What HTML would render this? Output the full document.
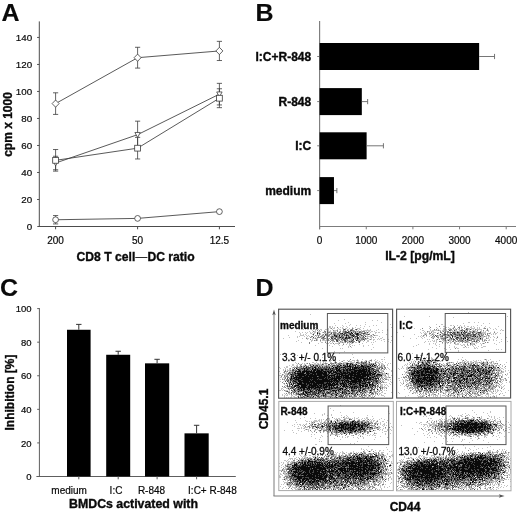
<!DOCTYPE html>
<html><head><meta charset="utf-8"><title>Figure</title>
<style>html,body{margin:0;padding:0;background:#fff;overflow:hidden}svg{display:block;filter:grayscale(1)}text{font-family:"Liberation Sans",sans-serif}</style>
</head><body>
<svg width="520" height="515" viewBox="0 0 520 515">
<rect width="520" height="515" fill="#fff"/>
<text transform="translate(1.5 21.1) scale(1.04 1)" font-size="24" font-weight="bold" fill="#0a0a0a" stroke="#0a0a0a" stroke-width="0.15">A</text>
<line x1="39.3" y1="21.4" x2="39.3" y2="227" stroke="#4c4c4c" stroke-width="1"/>
<line x1="37.3" y1="226.5" x2="235" y2="226.5" stroke="#4c4c4c" stroke-width="1"/>
<text x="32.2" y="230.1" font-size="9.8" text-anchor="end" fill="#0a0a0a" stroke="#0a0a0a" stroke-width="0.2">0</text>
<line x1="37.1" y1="199.49" x2="39.3" y2="199.49" stroke="#4c4c4c" stroke-width="1"/>
<text x="32.2" y="203.09" font-size="9.8" text-anchor="end" fill="#0a0a0a" stroke="#0a0a0a" stroke-width="0.2">20</text>
<line x1="37.1" y1="172.48" x2="39.3" y2="172.48" stroke="#4c4c4c" stroke-width="1"/>
<text x="32.2" y="176.08" font-size="9.8" text-anchor="end" fill="#0a0a0a" stroke="#0a0a0a" stroke-width="0.2">40</text>
<line x1="37.1" y1="145.47" x2="39.3" y2="145.47" stroke="#4c4c4c" stroke-width="1"/>
<text x="32.2" y="149.07" font-size="9.8" text-anchor="end" fill="#0a0a0a" stroke="#0a0a0a" stroke-width="0.2">60</text>
<line x1="37.1" y1="118.46" x2="39.3" y2="118.46" stroke="#4c4c4c" stroke-width="1"/>
<text x="32.2" y="122.06" font-size="9.8" text-anchor="end" fill="#0a0a0a" stroke="#0a0a0a" stroke-width="0.2">80</text>
<line x1="37.1" y1="91.45" x2="39.3" y2="91.45" stroke="#4c4c4c" stroke-width="1"/>
<text x="32.2" y="95.05" font-size="9.8" text-anchor="end" fill="#0a0a0a" stroke="#0a0a0a" stroke-width="0.2">100</text>
<line x1="37.1" y1="64.44" x2="39.3" y2="64.44" stroke="#4c4c4c" stroke-width="1"/>
<text x="32.2" y="68.04" font-size="9.8" text-anchor="end" fill="#0a0a0a" stroke="#0a0a0a" stroke-width="0.2">120</text>
<line x1="37.1" y1="37.43" x2="39.3" y2="37.43" stroke="#4c4c4c" stroke-width="1"/>
<text x="32.2" y="41.03" font-size="9.8" text-anchor="end" fill="#0a0a0a" stroke="#0a0a0a" stroke-width="0.2">140</text>
<line x1="55.6" y1="226.5" x2="55.6" y2="229.3" stroke="#4c4c4c" stroke-width="1"/>
<text x="55.6" y="243.8" font-size="10" text-anchor="middle" fill="#0a0a0a" stroke="#0a0a0a" stroke-width="0.2">200</text>
<line x1="137.6" y1="226.5" x2="137.6" y2="229.3" stroke="#4c4c4c" stroke-width="1"/>
<text x="137.6" y="243.8" font-size="10" text-anchor="middle" fill="#0a0a0a" stroke="#0a0a0a" stroke-width="0.2">50</text>
<line x1="219.4" y1="226.5" x2="219.4" y2="229.3" stroke="#4c4c4c" stroke-width="1"/>
<text x="219.4" y="243.8" font-size="10" text-anchor="middle" fill="#0a0a0a" stroke="#0a0a0a" stroke-width="0.2">12.5</text>
<text x="135.6" y="261.3" font-size="12.15" font-weight="bold" text-anchor="middle" fill="#0a0a0a" stroke="#0a0a0a" stroke-width="0.35">CD8 T cell<tspan font-weight="normal" stroke="none">&#8212;</tspan>DC ratio</text>
<text x="12" y="124.5" font-size="12" font-weight="bold" text-anchor="middle" fill="#0a0a0a" stroke="#0a0a0a" stroke-width="0.35" transform="rotate(-90 12 124.5)">cpm x 1000</text>
<path d="M55.6 103.6 L137.6 57.69 L219.4 50.94" fill="none" stroke="#3c3c3c" stroke-width="0.85"/>
<path d="M55.6 163.03 L137.6 134.67 L219.4 94.15" fill="none" stroke="#3c3c3c" stroke-width="0.85"/>
<path d="M55.6 160.33 L137.6 148.17 L219.4 98.2" fill="none" stroke="#3c3c3c" stroke-width="0.85"/>
<path d="M55.6 219.75 L137.6 218.4 L219.4 211.64" fill="none" stroke="#3c3c3c" stroke-width="0.85"/>
<line x1="55.6" y1="92.8" x2="55.6" y2="114.41" stroke="#3c3c3c" stroke-width="0.8"/>
<line x1="53" y1="92.8" x2="58.2" y2="92.8" stroke="#3c3c3c" stroke-width="0.8"/>
<line x1="53" y1="114.41" x2="58.2" y2="114.41" stroke="#3c3c3c" stroke-width="0.8"/>
<line x1="137.6" y1="47.29" x2="137.6" y2="68.09" stroke="#3c3c3c" stroke-width="0.8"/>
<line x1="135" y1="47.29" x2="140.2" y2="47.29" stroke="#3c3c3c" stroke-width="0.8"/>
<line x1="135" y1="68.09" x2="140.2" y2="68.09" stroke="#3c3c3c" stroke-width="0.8"/>
<line x1="219.4" y1="41.35" x2="219.4" y2="60.52" stroke="#3c3c3c" stroke-width="0.8"/>
<line x1="216.8" y1="41.35" x2="222" y2="41.35" stroke="#3c3c3c" stroke-width="0.8"/>
<line x1="216.8" y1="60.52" x2="222" y2="60.52" stroke="#3c3c3c" stroke-width="0.8"/>
<line x1="55.6" y1="156.27" x2="55.6" y2="169.78" stroke="#3c3c3c" stroke-width="0.8"/>
<line x1="53" y1="156.27" x2="58.2" y2="156.27" stroke="#3c3c3c" stroke-width="0.8"/>
<line x1="53" y1="169.78" x2="58.2" y2="169.78" stroke="#3c3c3c" stroke-width="0.8"/>
<line x1="137.6" y1="121.16" x2="137.6" y2="148.17" stroke="#3c3c3c" stroke-width="0.8"/>
<line x1="135" y1="121.16" x2="140.2" y2="121.16" stroke="#3c3c3c" stroke-width="0.8"/>
<line x1="135" y1="148.17" x2="140.2" y2="148.17" stroke="#3c3c3c" stroke-width="0.8"/>
<line x1="219.4" y1="83.35" x2="219.4" y2="104.95" stroke="#3c3c3c" stroke-width="0.8"/>
<line x1="216.8" y1="83.35" x2="222" y2="83.35" stroke="#3c3c3c" stroke-width="0.8"/>
<line x1="216.8" y1="104.95" x2="222" y2="104.95" stroke="#3c3c3c" stroke-width="0.8"/>
<line x1="55.6" y1="149.52" x2="55.6" y2="171.13" stroke="#3c3c3c" stroke-width="0.8"/>
<line x1="53" y1="149.52" x2="58.2" y2="149.52" stroke="#3c3c3c" stroke-width="0.8"/>
<line x1="53" y1="171.13" x2="58.2" y2="171.13" stroke="#3c3c3c" stroke-width="0.8"/>
<line x1="137.6" y1="137.37" x2="137.6" y2="158.97" stroke="#3c3c3c" stroke-width="0.8"/>
<line x1="135" y1="137.37" x2="140.2" y2="137.37" stroke="#3c3c3c" stroke-width="0.8"/>
<line x1="135" y1="158.97" x2="140.2" y2="158.97" stroke="#3c3c3c" stroke-width="0.8"/>
<line x1="219.4" y1="88.75" x2="219.4" y2="107.66" stroke="#3c3c3c" stroke-width="0.8"/>
<line x1="216.8" y1="88.75" x2="222" y2="88.75" stroke="#3c3c3c" stroke-width="0.8"/>
<line x1="216.8" y1="107.66" x2="222" y2="107.66" stroke="#3c3c3c" stroke-width="0.8"/>
<line x1="55.6" y1="215.56" x2="55.6" y2="223.93" stroke="#3c3c3c" stroke-width="0.8"/>
<line x1="53" y1="215.56" x2="58.2" y2="215.56" stroke="#3c3c3c" stroke-width="0.8"/>
<line x1="53" y1="223.93" x2="58.2" y2="223.93" stroke="#3c3c3c" stroke-width="0.8"/>
<path d="M52.1 103.6L55.6 100L59.1 103.6L55.6 107.2Z" fill="#fff" stroke="#3c3c3c" stroke-width="0.8"/>
<path d="M134.1 57.69L137.6 54.09L141.1 57.69L137.6 61.29Z" fill="#fff" stroke="#3c3c3c" stroke-width="0.8"/>
<path d="M215.9 50.94L219.4 47.34L222.9 50.94L219.4 54.54Z" fill="#fff" stroke="#3c3c3c" stroke-width="0.8"/>
<path d="M52.9 160.83L58.3 160.83L55.6 165.83Z" fill="#fff" stroke="#3c3c3c" stroke-width="0.8"/>
<path d="M134.9 132.47L140.3 132.47L137.6 137.47Z" fill="#fff" stroke="#3c3c3c" stroke-width="0.8"/>
<path d="M216.7 91.95L222.1 91.95L219.4 96.95Z" fill="#fff" stroke="#3c3c3c" stroke-width="0.8"/>
<rect x="52.7" y="157.43" width="5.8" height="5.8" fill="#fff" stroke="#3c3c3c" stroke-width="0.8"/>
<rect x="134.7" y="145.27" width="5.8" height="5.8" fill="#fff" stroke="#3c3c3c" stroke-width="0.8"/>
<rect x="216.5" y="95.3" width="5.8" height="5.8" fill="#fff" stroke="#3c3c3c" stroke-width="0.8"/>
<circle cx="55.6" cy="219.75" r="2.9" fill="#fff" stroke="#3c3c3c" stroke-width="0.8"/>
<circle cx="137.6" cy="218.4" r="2.9" fill="#fff" stroke="#3c3c3c" stroke-width="0.8"/>
<circle cx="219.4" cy="211.64" r="2.9" fill="#fff" stroke="#3c3c3c" stroke-width="0.8"/>
<text transform="translate(255.5 21.1) scale(1.04 1)" font-size="24" font-weight="bold" fill="#0a0a0a" stroke="#0a0a0a" stroke-width="0.15">B</text>
<line x1="319.6" y1="21" x2="319.6" y2="229.3" stroke="#7c7c7c" stroke-width="1.15"/>
<line x1="319.1" y1="226.5" x2="516" y2="226.5" stroke="#7c7c7c" stroke-width="1.15"/>
<line x1="317.2" y1="56.5" x2="319.6" y2="56.5" stroke="#7c7c7c" stroke-width="1"/>
<rect x="319.6" y="43" width="159.54" height="27" fill="#000"/>
<line x1="479.14" y1="56.5" x2="494.54" y2="56.5" stroke="#666" stroke-width="0.9"/>
<line x1="494.54" y1="53.9" x2="494.54" y2="59.1" stroke="#666" stroke-width="0.9"/>
<text x="311.2" y="60.8" font-size="12" font-weight="bold" text-anchor="end" fill="#0a0a0a" stroke="#0a0a0a" stroke-width="0.35">I:C+R-848</text>
<line x1="317.2" y1="101.6" x2="319.6" y2="101.6" stroke="#7c7c7c" stroke-width="1"/>
<rect x="319.6" y="88.1" width="42.22" height="27" fill="#000"/>
<line x1="361.82" y1="101.6" x2="367.65" y2="101.6" stroke="#666" stroke-width="0.9"/>
<line x1="367.65" y1="99" x2="367.65" y2="104.2" stroke="#666" stroke-width="0.9"/>
<text x="311.2" y="105.9" font-size="12" font-weight="bold" text-anchor="end" fill="#0a0a0a" stroke="#0a0a0a" stroke-width="0.35">R-848</text>
<line x1="317.2" y1="145.8" x2="319.6" y2="145.8" stroke="#7c7c7c" stroke-width="1"/>
<rect x="319.6" y="132.3" width="47.02" height="27" fill="#000"/>
<line x1="366.62" y1="145.8" x2="383.42" y2="145.8" stroke="#666" stroke-width="0.9"/>
<line x1="383.42" y1="143.2" x2="383.42" y2="148.4" stroke="#666" stroke-width="0.9"/>
<text x="311.2" y="150.1" font-size="12" font-weight="bold" text-anchor="end" fill="#0a0a0a" stroke="#0a0a0a" stroke-width="0.35">I:C</text>
<line x1="317.2" y1="190.6" x2="319.6" y2="190.6" stroke="#7c7c7c" stroke-width="1"/>
<rect x="319.6" y="177.1" width="14.37" height="27" fill="#000"/>
<line x1="333.97" y1="190.6" x2="336.86" y2="190.6" stroke="#666" stroke-width="0.9"/>
<line x1="336.86" y1="188" x2="336.86" y2="193.2" stroke="#666" stroke-width="0.9"/>
<text x="311.2" y="194.9" font-size="12" font-weight="bold" text-anchor="end" fill="#0a0a0a" stroke="#0a0a0a" stroke-width="0.35">medium</text>
<line x1="319.6" y1="226.5" x2="319.6" y2="229.3" stroke="#7c7c7c" stroke-width="1"/>
<text x="319.6" y="243.6" font-size="10" text-anchor="middle" fill="#0a0a0a" stroke="#0a0a0a" stroke-width="0.2">0</text>
<line x1="366.25" y1="226.5" x2="366.25" y2="229.3" stroke="#7c7c7c" stroke-width="1"/>
<text x="366.25" y="243.6" font-size="10" text-anchor="middle" fill="#0a0a0a" stroke="#0a0a0a" stroke-width="0.2">1000</text>
<line x1="412.9" y1="226.5" x2="412.9" y2="229.3" stroke="#7c7c7c" stroke-width="1"/>
<text x="412.9" y="243.6" font-size="10" text-anchor="middle" fill="#0a0a0a" stroke="#0a0a0a" stroke-width="0.2">2000</text>
<line x1="459.55" y1="226.5" x2="459.55" y2="229.3" stroke="#7c7c7c" stroke-width="1"/>
<text x="459.55" y="243.6" font-size="10" text-anchor="middle" fill="#0a0a0a" stroke="#0a0a0a" stroke-width="0.2">3000</text>
<line x1="506.2" y1="226.5" x2="506.2" y2="229.3" stroke="#7c7c7c" stroke-width="1"/>
<text x="506.2" y="243.6" font-size="10" text-anchor="middle" fill="#0a0a0a" stroke="#0a0a0a" stroke-width="0.2">4000</text>
<text x="420" y="260.4" font-size="12.2" font-weight="bold" text-anchor="middle" fill="#0a0a0a" stroke="#0a0a0a" stroke-width="0.35">IL-2 [pg/mL]</text>
<text transform="translate(0.1 296.2) scale(1.04 1)" font-size="24" font-weight="bold" fill="#0a0a0a" stroke="#0a0a0a" stroke-width="0.15">C</text>
<line x1="39.4" y1="308.1" x2="39.4" y2="477" stroke="#5e5e5e" stroke-width="1"/>
<line x1="36.4" y1="476.5" x2="235.8" y2="476.5" stroke="#5e5e5e" stroke-width="1"/>
<line x1="37.2" y1="476.5" x2="39.4" y2="476.5" stroke="#5e5e5e" stroke-width="1"/>
<text x="31.6" y="480.2" font-size="9.5" text-anchor="end" fill="#0a0a0a" stroke="#0a0a0a" stroke-width="0.2">0</text>
<line x1="37.2" y1="442.92" x2="39.4" y2="442.92" stroke="#5e5e5e" stroke-width="1"/>
<text x="31.6" y="446.62" font-size="9.5" text-anchor="end" fill="#0a0a0a" stroke="#0a0a0a" stroke-width="0.2">20</text>
<line x1="37.2" y1="409.34" x2="39.4" y2="409.34" stroke="#5e5e5e" stroke-width="1"/>
<text x="31.6" y="413.04" font-size="9.5" text-anchor="end" fill="#0a0a0a" stroke="#0a0a0a" stroke-width="0.2">40</text>
<line x1="37.2" y1="375.76" x2="39.4" y2="375.76" stroke="#5e5e5e" stroke-width="1"/>
<text x="31.6" y="379.46" font-size="9.5" text-anchor="end" fill="#0a0a0a" stroke="#0a0a0a" stroke-width="0.2">60</text>
<line x1="37.2" y1="342.18" x2="39.4" y2="342.18" stroke="#5e5e5e" stroke-width="1"/>
<text x="31.6" y="345.88" font-size="9.5" text-anchor="end" fill="#0a0a0a" stroke="#0a0a0a" stroke-width="0.2">80</text>
<line x1="37.2" y1="308.6" x2="39.4" y2="308.6" stroke="#5e5e5e" stroke-width="1"/>
<text x="31.6" y="312.3" font-size="9.5" text-anchor="end" fill="#0a0a0a" stroke="#0a0a0a" stroke-width="0.2">100</text>
<rect x="67" y="329.76" width="23.6" height="146.74" fill="#000"/>
<line x1="78.8" y1="329.76" x2="78.8" y2="324.38" stroke="#333" stroke-width="1"/>
<line x1="76.1" y1="324.38" x2="81.5" y2="324.38" stroke="#333" stroke-width="1"/>
<line x1="78.8" y1="476.5" x2="78.8" y2="479.3" stroke="#5e5e5e" stroke-width="1"/>
<rect x="106.2" y="354.77" width="24" height="121.73" fill="#000"/>
<line x1="118.2" y1="354.77" x2="118.2" y2="351.25" stroke="#333" stroke-width="1"/>
<line x1="115.5" y1="351.25" x2="120.9" y2="351.25" stroke="#333" stroke-width="1"/>
<line x1="118.2" y1="476.5" x2="118.2" y2="479.3" stroke="#5e5e5e" stroke-width="1"/>
<rect x="145" y="363.34" width="24.2" height="113.16" fill="#000"/>
<line x1="157.1" y1="363.34" x2="157.1" y2="359.31" stroke="#333" stroke-width="1"/>
<line x1="154.4" y1="359.31" x2="159.8" y2="359.31" stroke="#333" stroke-width="1"/>
<line x1="157.1" y1="476.5" x2="157.1" y2="479.3" stroke="#5e5e5e" stroke-width="1"/>
<rect x="184.5" y="433.35" width="24.2" height="43.15" fill="#000"/>
<line x1="196.6" y1="433.35" x2="196.6" y2="425.29" stroke="#333" stroke-width="1"/>
<line x1="193.9" y1="425.29" x2="199.3" y2="425.29" stroke="#333" stroke-width="1"/>
<line x1="196.6" y1="476.5" x2="196.6" y2="479.3" stroke="#5e5e5e" stroke-width="1"/>
<text x="69.1" y="494" font-size="10" text-anchor="middle" fill="#0a0a0a" stroke="#0a0a0a" stroke-width="0.2">medium</text>
<text x="116" y="494" font-size="10" text-anchor="middle" fill="#0a0a0a" stroke="#0a0a0a" stroke-width="0.2">I:C</text>
<text x="151.5" y="494" font-size="10" text-anchor="middle" fill="#0a0a0a" stroke="#0a0a0a" stroke-width="0.2">R-848</text>
<text x="212.4" y="494" font-size="10" text-anchor="middle" fill="#0a0a0a" stroke="#0a0a0a" stroke-width="0.2">I:C+ R-848</text>
<text x="133.5" y="508.2" font-size="12.35" font-weight="bold" text-anchor="middle" fill="#0a0a0a" stroke="#0a0a0a" stroke-width="0.35">BMDCs activated with</text>
<text x="13.5" y="392.5" font-size="12" font-weight="bold" text-anchor="middle" fill="#0a0a0a" stroke="#0a0a0a" stroke-width="0.35" transform="rotate(-90 13.5 392.5)">Inhibition [%]</text>
<text transform="translate(255.5 296) scale(1.04 1)" font-size="24" font-weight="bold" fill="#0a0a0a" stroke="#0a0a0a" stroke-width="0.15">D</text>
<g stroke-width="1" fill="none" shape-rendering="crispEdges"><path d="M310 314.5h1M344 319.5h1M338 320.5h1m33 0h1m4 0h1M348 322.5h1m16 0h1m15 0h1M317 323.5h1m16 0h1m10 0h1M350 324.5h1m14 0h1m24 0h1M315 325.5h1m19 0h1m6 0h1m6 0h1m6 0h1m3 0h1m12 0h1m2 0h1M329 326.5h2m1 0h1m10 0h1m2 0h1m17 0h1m4 0h1M315 327.5h1m13 0h2m1 0h1m1 0h1m5 0h1m1 0h1m4 0h1m4 0h1m2 0h1m4 0h1m30 0h1M328 328.5h1m1 0h1m2 0h2m3 0h1m3 0h2m1 0h2m2 0h1m3 0h1m3 0h3m3 0h1M303 329.5h1m7 0h1m1 0h1m1 0h2m1 0h1m1 0h2m3 0h2m1 0h1m3 0h1m4 0h1m1 0h2m6 0h2m1 0h1m6 0h1m1 0h2m6 0h1m2 0h1m7 0h1m8 0h1M312 330.5h1m2 0h1m5 0h1m2 0h1m3 0h1m1 0h1m3 0h3m3 0h1m3 0h2m2 0h1m5 0h1m1 0h1m1 0h1m2 0h1m1 0h8m5 0h1m5 0h1m4 0h1M295 331.5h1m13 0h1m4 0h2m2 0h3m7 0h3m2 0h3m3 0h1m2 0h1m8 0h2m3 0h1m1 0h1m2 0h1m4 0h1m1 0h2m1 0h2m1 0h1M299 332.5h1m2 0h1m2 0h1m1 0h1m2 0h1m1 0h1m1 0h2m2 0h2m2 0h1m1 0h1m5 0h1m1 0h1m3 0h1m1 0h1m1 0h1m1 0h1m7 0h1m1 0h1m1 0h1m1 0h3m3 0h1m3 0h1m1 0h1m1 0h1m4 0h2m1 0h2m2 0h1M300 333.5h1m5 0h1m3 0h2m1 0h2m3 0h1m1 0h1m3 0h5m1 0h1m5 0h1m2 0h1m3 0h1m3 0h1m11 0h2m5 0h2m1 0h1m5 0h1M300 334.5h1m2 0h1m1 0h1m6 0h1m7 0h1m1 0h1m4 0h2m2 0h2m3 0h1m8 0h1m2 0h1m5 0h1m6 0h1m2 0h2m6 0h1m13 0h1M288 335.5h1m11 0h4m2 0h1m1 0h1m4 0h1m2 0h2m1 0h1m1 0h1m1 0h2m2 0h1m3 0h3m4 0h1m1 0h1m2 0h1m5 0h1m9 0h2m2 0h1m1 0h1m1 0h1m2 0h1m2 0h1m1 0h3M297 336.5h1m1 0h1m4 0h1m2 0h1m1 0h1m4 0h1m1 0h1m5 0h2m2 0h2m1 0h2m9 0h1m3 0h2m1 0h1m2 0h1m9 0h3m3 0h7m6 0h1m11 0h1M289 337.5h1m7 0h1m8 0h1m4 0h1m3 0h1m4 0h2m2 0h1m1 0h1m3 0h1m3 0h1m9 0h1m11 0h1m2 0h1m1 0h1m5 0h1m2 0h2m3 0h1m6 0h1M283 338.5h1m18 0h1m4 0h2m3 0h3m1 0h2m8 0h1m1 0h1m4 0h1m6 0h1m10 0h1m2 0h1m4 0h2m3 0h1m1 0h1m1 0h1m2 0h1m6 0h1m1 0h2M307 339.5h1m4 0h1m4 0h1m2 0h1m1 0h1m1 0h1m1 0h1m4 0h1m2 0h1m4 0h2m1 0h1m6 0h2m1 0h1m3 0h1m1 0h1m1 0h1m4 0h2m2 0h1m1 0h1m1 0h2m2 0h1m1 0h1m3 0h2m3 0h1M298 340.5h1m12 0h2m2 0h1m1 0h1m4 0h6m1 0h1m8 0h1m2 0h1m1 0h1m2 0h1m1 0h3m8 0h1m1 0h2m4 0h2m4 0h1m7 0h1m9 0h1M296 341.5h1m14 0h1m8 0h1m4 0h1m6 0h2m4 0h1m2 0h2m4 0h2m11 0h1m2 0h1m3 0h2m6 0h1m8 0h1m3 0h1M301 342.5h1m19 0h2m6 0h1m2 0h1m5 0h4m1 0h2m3 0h2m1 0h1m3 0h2m1 0h1m7 0h1m4 0h1m1 0h1m16 0h1M318 343.5h1m7 0h3m1 0h2m3 0h4m4 0h1m3 0h1m1 0h1m1 0h2m9 0h1M334 344.5h1m3 0h1m7 0h1m2 0h2m8 0h1m12 0h1M315 345.5h1m13 0h1m9 0h1m2 0h1m6 0h1m2 0h1m1 0h1m8 0h1m4 0h1M332 346.5h1m15 0h1m14 0h1M348 347.5h1m2 0h1m21 0h1M322 348.5h1m17 0h1m1 0h1M371 349.5h1M334 351.5h1m9 0h1M339 353.5h1M280 354.5h1m71 0h1M297 355.5h1M302 356.5h1M322 357.5h1m30 0h1m30 0h1M334 359.5h1m22 0h1m4 0h1m8 0h1m3 0h1m5 0h2m1 0h1M292 360.5h1m2 0h1m21 0h2m12 0h1m1 0h1m5 0h1m3 0h2m2 0h1m1 0h1m2 0h3m1 0h1m1 0h1m6 0h2m2 0h1m4 0h1m2 0h1M323 361.5h1m6 0h1m10 0h1m7 0h3m2 0h1m2 0h2m3 0h1m1 0h2m2 0h2m1 0h1m3 0h2m2 0h1m2 0h1M295 362.5h1m16 0h2m2 0h1m3 0h1m2 0h1m1 0h1m4 0h2m2 0h1m4 0h2m2 0h5m2 0h5m4 0h2m7 0h1m7 0h3m1 0h1m4 0h1M296 363.5h1m5 0h1m1 0h1m1 0h1m7 0h2m1 0h2m1 0h1m1 0h3m2 0h1m6 0h1m1 0h2m4 0h1m1 0h2m7 0h1m1 0h3m2 0h1m6 0h2m1 0h1m1 0h1m1 0h1m3 0h2m1 0h2m5 0h1m1 0h1M292 364.5h2m3 0h1m1 0h2m3 0h2m3 0h1m1 0h1m1 0h5m1 0h3m3 0h2m5 0h3m2 0h1m3 0h2m2 0h1m2 0h1m8 0h2m3 0h1m4 0h1m6 0h2m5 0h3m3 0h1M289 365.5h1m2 0h2m2 0h2m3 0h1m1 0h2m1 0h1m1 0h2m1 0h2m1 0h1m3 0h1m1 0h1m1 0h4m1 0h1m1 0h1m1 0h1m7 0h1m2 0h1m5 0h1m7 0h1m3 0h1m10 0h1m1 0h1m5 0h1m2 0h2m3 0h1M286 366.5h2m3 0h1m2 0h1m1 0h1m2 0h1m2 0h1m2 0h1m12 0h1m2 0h1m1 0h1m6 0h1m2 0h1m20 0h1m21 0h1m2 0h2m1 0h2M279 367.5h1m4 0h1m1 0h2m4 0h1m1 0h1m7 0h1m1 0h1m12 0h1m12 0h1m1 0h1m39 0h2m2 0h1m1 0h1m8 0h1M280 368.5h1m4 0h1m3 0h1m2 0h1m5 0h1m15 0h1m36 0h1m22 0h1m8 0h2m3 0h1M283 369.5h1m1 0h1m1 0h1m1 0h2m3 0h1m1 0h1m82 0h2m2 0h1m2 0h1m2 0h1M283 370.5h1m3 0h3m1 0h1m5 0h1m37 0h1m38 0h1m5 0h4m7 0h1M279 371.5h1m6 0h1m2 0h3m2 0h1m86 0h2m8 0h1M283 372.5h1m2 0h1m1 0h1m7 0h1m77 0h1m2 0h1m4 0h1m1 0h1M280 373.5h1m3 0h4m3 0h1m84 0h1m2 0h3m1 0h3m1 0h2M283 374.5h1m1 0h2m2 0h1m93 0h3m1 0h2M279 375.5h4m2 0h2m3 0h1m91 0h3m3 0h1m2 0h1M285 376.5h1m2 0h1m5 0h1m87 0h1m1 0h3m1 0h1M280 377.5h2m1 0h2m4 0h1m78 0h1m7 0h1m5 0h2m1 0h4m1 0h1M282 378.5h1m1 0h1m96 0h1m3 0h2M280 379.5h1m2 0h1m5 0h1m89 0h1m2 0h1m4 0h2m1 0h1M284 380.5h2m3 0h1m90 0h3m1 0h1m3 0h1M280 381.5h1m2 0h1m5 0h1m1 0h1m75 0h1m11 0h1m3 0h1m6 0h1M286 382.5h1m4 0h1m88 0h1m1 0h1m1 0h3m4 0h1M283 383.5h1m3 0h2m1 0h1m1 0h1m77 0h2m6 0h2m9 0h1M284 384.5h1m83 0h1m5 0h1m5 0h3m1 0h1m1 0h1m3 0h1M285 385.5h2m3 0h1m2 0h1m74 0h1m9 0h1m1 0h3m2 0h1m1 0h1M286 386.5h1m48 0h1m2 0h1m2 0h1m19 0h1m11 0h1m2 0h1m4 0h2m1 0h1m3 0h1M283 387.5h2m2 0h4m73 0h1m9 0h1m6 0h1m1 0h4M281 388.5h2m3 0h2m1 0h1m4 0h1m49 0h1m12 0h1m12 0h1m4 0h3m3 0h1m2 0h1M281 389.5h1m1 0h1m4 0h1m2 0h1m4 0h1m24 0h1m28 0h1m6 0h1m3 0h1m4 0h2m1 0h2m7 0h1m3 0h1M279 390.5h2m1 0h1m2 0h3m1 0h1m3 0h1m20 0h1m12 0h1m21 0h2m12 0h1m3 0h2m3 0h2m3 0h4m3 0h1m1 0h1M285 391.5h1m2 0h2m6 0h1m5 0h1m22 0h1m2 0h1m8 0h1m2 0h2m8 0h1m4 0h2m3 0h2m3 0h1m3 0h1m3 0h1m1 0h2m5 0h1M292 392.5h1m2 0h1m1 0h1m1 0h2m3 0h1m12 0h1m7 0h1m5 0h1m2 0h1m2 0h1m9 0h2m2 0h1m3 0h1m2 0h2m2 0h1m3 0h3m4 0h2m1 0h1m1 0h1m2 0h2m8 0h1M284 393.5h1m3 0h3m4 0h1m3 0h1m11 0h1m38 0h1m6 0h2m2 0h1m2 0h3m9 0h1m2 0h2m3 0h2M282 394.5h1m2 0h1m1 0h1m1 0h1m3 0h3m10 0h1m9 0h1m3 0h2m2 0h1m2 0h3m3 0h1m3 0h1m1 0h1m2 0h1m3 0h1m2 0h3m6 0h1m1 0h1m5 0h3m1 0h1m1 0h1m2 0h1m3 0h1m1 0h1M282 395.5h1m1 0h1m1 0h2m3 0h2m2 0h2m1 0h2m1 0h1m8 0h1m2 0h1m5 0h2m6 0h4m3 0h1m3 0h1m9 0h1m1 0h1m2 0h1m2 0h4m2 0h1m3 0h1m1 0h1m1 0h1m1 0h1m2 0h1m2 0h1m2 0h3M284 396.5h1m6 0h1m1 0h2m2 0h1m3 0h2m2 0h1m6 0h1m1 0h3m5 0h1m9 0h3m1 0h1m6 0h2m2 0h1m4 0h2m7 0h1m2 0h3m1 0h3m1 0h1m11 0h1M284 397.5h1m1 0h1m1 0h1m1 0h2m2 0h3m2 0h1m3 0h1m3 0h2m2 0h1m5 0h1m3 0h1m2 0h1m1 0h1m1 0h2m1 0h1m1 0h1m4 0h2m1 0h1m1 0h1m3 0h1m1 0h1m3 0h2m3 0h1m2 0h1m6 0h1m3 0h1" stroke="#c2c2c2"/>
<path d="M337 327.5h1M331 328.5h1m20 0h1M343 329.5h1m1 0h1m5 0h2m2 0h1M317 330.5h1m1 0h1m13 0h1m3 0h1m5 0h1m3 0h1m4 0h2M313 331.5h1m10 0h2m1 0h1m9 0h1m2 0h1m2 0h2m1 0h1m2 0h2m2 0h3m1 0h1m1 0h2m1 0h3M323 332.5h1m1 0h1m1 0h3m1 0h1m1 0h3m7 0h2m4 0h1m3 0h1m6 0h2m2 0h2M333 333.5h3m1 0h2m7 0h1m1 0h1m5 0h1m6 0h2m2 0h1M317 334.5h1m1 0h1m3 0h1m2 0h1m2 0h2m2 0h1m1 0h1m1 0h6m4 0h1m1 0h1m1 0h2m2 0h1m3 0h1m3 0h1m2 0h2m1 0h1m3 0h1M315 335.5h1m2 0h1m3 0h1m2 0h2m1 0h2m7 0h1m3 0h1m3 0h1m4 0h1m5 0h1m5 0h1m1 0h1m6 0h1m2 0h1M311 336.5h2m5 0h1m1 0h2m6 0h1m2 0h1m1 0h2m2 0h2m3 0h2m5 0h1m1 0h2m1 0h1m4 0h1M310 337.5h1m6 0h3m2 0h1m9 0h2m1 0h4m2 0h1m5 0h1m3 0h1m2 0h2m4 0h1m1 0h3m8 0h1M306 338.5h1m8 0h1m5 0h5m1 0h1m1 0h1m7 0h3m1 0h1m1 0h2m5 0h1m1 0h2m1 0h2m4 0h3m3 0h1M310 339.5h1m5 0h1m6 0h1m4 0h1m1 0h1m1 0h2m1 0h1m1 0h2m6 0h3m3 0h1m3 0h1m3 0h1m1 0h2m1 0h1m5 0h1M314 340.5h1m1 0h1m3 0h1m7 0h1m2 0h3m5 0h1m2 0h1m4 0h1m3 0h1m1 0h1m3 0h2m1 0h1m3 0h1M330 341.5h1m3 0h1m1 0h1m3 0h1m3 0h1m1 0h1m3 0h1m1 0h3m3 0h1M309 342.5h1m15 0h1m16 0h1m2 0h1m1 0h1m2 0h1m2 0h1M309 343.5h1m23 0h1m5 0h1M343 344.5h1M350 346.5h1M350 359.5h1M357 360.5h1m12 0h2M335 361.5h1m6 0h1m5 0h1m12 0h1M336 362.5h1m21 0h1m3 0h3m1 0h1m8 0h1M298 363.5h1m8 0h1m1 0h1m15 0h2m3 0h4m1 0h1m2 0h3m2 0h1m5 0h1m2 0h1m5 0h2m1 0h2m1 0h3m2 0h1m1 0h1m1 0h1M301 364.5h1m8 0h1m1 0h1m5 0h1m4 0h1m7 0h1m4 0h1m1 0h1m1 0h1m2 0h2m4 0h1m1 0h1m1 0h3m4 0h1m2 0h3m2 0h1m1 0h1m1 0h1m3 0h1m2 0h1M300 365.5h1m14 0h1m3 0h1m1 0h1m4 0h1m1 0h1m1 0h1m1 0h1m2 0h2m9 0h1m4 0h1m11 0h1m3 0h3m6 0h1m1 0h1m2 0h1m2 0h1M297 366.5h1m2 0h1m2 0h1m3 0h2m1 0h1m2 0h2m1 0h1m3 0h1m3 0h2m1 0h3m1 0h1m2 0h3m3 0h4m12 0h1m2 0h1m10 0h1m3 0h2m5 0h1m2 0h1M293 367.5h1m1 0h7m3 0h1m1 0h1m3 0h1m1 0h1m2 0h1m2 0h1m1 0h1m1 0h1m1 0h1m2 0h1m2 0h1m2 0h1m13 0h1m2 0h1m19 0h1m2 0h1m2 0h1m1 0h4m1 0h2M290 368.5h1m6 0h1m1 0h2m9 0h2m10 0h1m4 0h1m6 0h1m3 0h1m2 0h2m1 0h1m1 0h1m20 0h1m2 0h1m5 0h3m2 0h1m3 0h1M292 369.5h1m2 0h1m5 0h1m1 0h1m1 0h1m3 0h1m1 0h1m17 0h1m1 0h1m8 0h1m34 0h4m2 0h1m2 0h1M285 370.5h1m4 0h1m3 0h2m5 0h2m7 0h1m1 0h1m11 0h1m17 0h1m27 0h1m1 0h1m2 0h1M284 371.5h2m1 0h1m4 0h2m7 0h1m13 0h1m16 0h1m40 0h1m2 0h2m1 0h1m3 0h1M284 372.5h1m5 0h2m1 0h1m11 0h1m21 0h1m4 0h1m38 0h1m6 0h1m1 0h2M289 373.5h2m2 0h1m10 0h2m21 0h1m2 0h1m3 0h1m42 0h2m3 0h1M282 374.5h1m4 0h2m7 0h1m32 0h2m40 0h1m3 0h2m4 0h2M284 375.5h1m2 0h1m1 0h1m4 0h1m40 0h1m4 0h1m32 0h1m1 0h1m9 0h1M281 376.5h1m2 0h1m1 0h2m2 0h1m26 0h1m12 0h1m18 0h1m16 0h1m3 0h1m7 0h4M285 377.5h1m1 0h2m1 0h1m1 0h1m81 0h1m3 0h2m1 0h1m7 0h1M285 378.5h1m3 0h1m82 0h1m7 0h1m1 0h1m1 0h1M282 379.5h1m1 0h1m1 0h3m4 0h1m43 0h1m24 0h1m11 0h1m5 0h1m2 0h1m1 0h2M286 380.5h2m4 0h1m56 0h2m11 0h1m8 0h2m5 0h2M288 381.5h1m8 0h1m43 0h1m1 0h1m26 0h1m1 0h1m1 0h1m3 0h1m3 0h1M282 382.5h1m5 0h2m2 0h1m1 0h1m3 0h1m33 0h1m8 0h1m7 0h1m24 0h2m1 0h3m1 0h1m1 0h1M284 383.5h1m11 0h1m34 0h1m3 0h1m2 0h1m8 0h1m18 0h2m5 0h4m3 0h1M287 384.5h1m2 0h1m1 0h1m2 0h2m42 0h1m7 0h1m1 0h1m7 0h1m3 0h1m13 0h2m1 0h1M299 385.5h2m35 0h1m2 0h2m1 0h1m4 0h2m2 0h1m6 0h1m5 0h1M282 386.5h1m1 0h1m3 0h1m1 0h1m1 0h2m2 0h1m3 0h1m29 0h1m1 0h1m1 0h1m4 0h1m9 0h1m18 0h2m1 0h1m2 0h1m2 0h2m1 0h1M285 387.5h1m54 0h3m1 0h1m1 0h1m1 0h1m14 0h1m2 0h2m1 0h1m2 0h2m3 0h1m2 0h1m1 0h1M291 388.5h1m1 0h1m2 0h2m7 0h1m4 0h1m16 0h1m15 0h1m1 0h1m1 0h4m8 0h1m1 0h2m3 0h1m2 0h1m4 0h1m7 0h1m3 0h1M289 389.5h1m5 0h1m4 0h1m1 0h1m9 0h1m10 0h1m8 0h5m4 0h1m1 0h1m2 0h2m6 0h3m8 0h1m2 0h1m3 0h1m7 0h1M284 390.5h1m7 0h1m2 0h4m6 0h3m1 0h1m1 0h1m1 0h1m3 0h1m7 0h2m1 0h2m1 0h1m5 0h1m1 0h1m1 0h3m1 0h1m11 0h1m3 0h1m2 0h1m1 0h1m2 0h1m4 0h1m6 0h1M286 391.5h1m5 0h3m2 0h1m1 0h3m6 0h2m3 0h1m1 0h1m1 0h1m4 0h1m3 0h1m2 0h1m2 0h1m1 0h1m1 0h1m6 0h1m2 0h2m3 0h1m6 0h1m4 0h1m2 0h2m2 0h2m2 0h1m2 0h1m1 0h1M288 392.5h2m3 0h1m2 0h1m1 0h1m3 0h1m8 0h1m9 0h1m1 0h1m8 0h2m4 0h2m1 0h1m7 0h2m2 0h2m8 0h2m4 0h1m1 0h2m2 0h1M286 393.5h1m4 0h1m1 0h1m3 0h1m2 0h1m3 0h2m2 0h2m9 0h3m2 0h1m1 0h1m3 0h2m2 0h3m1 0h2m1 0h1m1 0h1m1 0h1m1 0h1m5 0h3m4 0h1m2 0h1m5 0h1m1 0h1m1 0h1m1 0h1m1 0h1M291 394.5h1m4 0h2m19 0h2m3 0h1m3 0h1m3 0h1m1 0h1m1 0h1m3 0h1m2 0h1m1 0h2m2 0h2m3 0h3m4 0h1m1 0h2m8 0h1m1 0h1m3 0h1M302 395.5h1m1 0h1m3 0h2m2 0h1m1 0h2m1 0h1m4 0h1m3 0h1m4 0h1m1 0h1m1 0h1m1 0h1m1 0h2m1 0h1m2 0h3m1 0h1m1 0h1m3 0h1m7 0h3M300 396.5h1m3 0h1m1 0h1m2 0h3m7 0h3m2 0h1m1 0h6m6 0h1m6 0h2m3 0h2m2 0h3m2 0h2m1 0h1m11 0h1M300 397.5h1m4 0h2m2 0h1m3 0h1m4 0h1m6 0h1m6 0h1m1 0h2m1 0h1m2 0h1m5 0h1m5 0h1m9 0h3m2 0h1m3 0h1m1 0h1" stroke="#848484"/>
<path d="M344 329.5h1m11 0h1M350 330.5h2M345 331.5h1m2 0h1M317 332.5h1m21 0h1m5 0h2m1 0h1m6 0h1m3 0h1m7 0h1M319 333.5h1m11 0h1m8 0h2m2 0h2m3 0h3m3 0h2m1 0h1m4 0h2M313 334.5h1m11 0h1m8 0h1m8 0h2m1 0h1m6 0h1m4 0h1m1 0h1m7 0h1M335 335.5h2m5 0h1m1 0h1m2 0h2m2 0h1m1 0h2m2 0h2m2 0h1M324 336.5h1m7 0h1m2 0h1m3 0h1m1 0h1m4 0h1m1 0h1m6 0h3m5 0h1m1 0h1M313 337.5h1m9 0h1m3 0h1m3 0h1m7 0h1m2 0h2m1 0h1m2 0h1m1 0h1m1 0h1m5 0h1M331 338.5h2m1 0h2m6 0h1m3 0h4m8 0h1m6 0h1M336 339.5h1m4 0h1m1 0h2m12 0h1m5 0h1M336 340.5h2m6 0h2m6 0h1M337 341.5h1m7 0h1m3 0h1m1 0h1m7 0h1M352 342.5h1m6 0h1M366 361.5h1M335 362.5h1m20 0h2m3 0h1m3 0h1m3 0h1M341 363.5h1m4 0h1m1 0h1m1 0h2m11 0h1m11 0h1M322 364.5h1m5 0h2m9 0h1m6 0h1m14 0h1m4 0h1m2 0h1m1 0h1M305 365.5h1m4 0h1m5 0h2m15 0h2m2 0h2m2 0h1m2 0h2m4 0h1m1 0h3m2 0h3m4 0h3m8 0h1M301 366.5h1m2 0h1m1 0h1m4 0h2m2 0h1m1 0h1m1 0h1m2 0h1m3 0h1m11 0h1m5 0h1m1 0h1m4 0h3m3 0h2m1 0h1m3 0h3m2 0h1m1 0h3m3 0h1M303 367.5h1m4 0h3m1 0h1m7 0h1m1 0h1m1 0h1m1 0h2m9 0h4m1 0h1m2 0h3m1 0h1m3 0h1m4 0h1m1 0h3m1 0h1m1 0h4m5 0h1M294 368.5h1m6 0h3m1 0h5m3 0h1m2 0h6m1 0h4m1 0h4m1 0h1m1 0h1m4 0h1m2 0h1m3 0h1m1 0h1m3 0h1m3 0h1m1 0h2m1 0h1m1 0h2m5 0h1m1 0h1m5 0h1m2 0h1M293 369.5h1m3 0h1m1 0h2m1 0h1m3 0h1m1 0h1m1 0h1m2 0h1m2 0h1m1 0h3m2 0h2m2 0h1m4 0h4m1 0h1m3 0h2m1 0h2m2 0h1m6 0h4m2 0h1m5 0h2m1 0h5M292 370.5h2m2 0h1m1 0h1m1 0h1m2 0h1m1 0h1m1 0h3m6 0h1m3 0h1m2 0h1m1 0h6m2 0h2m6 0h1m3 0h1m2 0h1m2 0h3m11 0h1m1 0h1m3 0h1m4 0h3M296 371.5h1m15 0h1m9 0h1m3 0h1m2 0h1m4 0h1m1 0h1m1 0h1m2 0h2m1 0h3m1 0h3m2 0h1m3 0h1m9 0h1m2 0h3m5 0h1M289 372.5h1m2 0h1m2 0h1m1 0h3m1 0h1m7 0h1m13 0h1m7 0h1m5 0h3m2 0h1m3 0h1m3 0h1m5 0h1m5 0h1m3 0h1m1 0h1m3 0h1m2 0h2m2 0h1M288 373.5h1m3 0h1m1 0h1m1 0h1m13 0h2m4 0h1m11 0h1m4 0h1m1 0h1m4 0h1m7 0h1m11 0h1m5 0h1m1 0h1m3 0h2M290 374.5h1m1 0h4m1 0h1m8 0h1m2 0h1m3 0h1m2 0h1m5 0h1m4 0h1m3 0h3m2 0h1m1 0h1m4 0h2m1 0h2m5 0h1m2 0h1m23 0h1M291 375.5h3m2 0h1m8 0h1m16 0h2m4 0h1m7 0h1m1 0h1m10 0h1m11 0h1m7 0h1m1 0h2m1 0h1m2 0h4M292 376.5h1m2 0h1m1 0h2m3 0h2m4 0h1m9 0h1m8 0h1m4 0h2m1 0h1m6 0h1m1 0h1m7 0h2m15 0h1m1 0h3m1 0h3M293 377.5h1m18 0h1m12 0h1m1 0h1m3 0h1m1 0h1m1 0h1m4 0h1m1 0h1m12 0h1m8 0h3m4 0h1m3 0h1m1 0h1M287 378.5h1m2 0h1m1 0h1m2 0h1m1 0h1m3 0h1m16 0h1m5 0h1m2 0h1m1 0h2m10 0h2m1 0h1m7 0h1m6 0h1m8 0h1m2 0h1m1 0h2m2 0h1M291 379.5h2m1 0h1m4 0h2m9 0h1m1 0h1m4 0h1m1 0h3m6 0h1m4 0h1m6 0h4m1 0h2m1 0h2m2 0h2m7 0h1m4 0h1m4 0h1m1 0h1m1 0h2m1 0h1M288 380.5h1m1 0h2m2 0h4m3 0h2m8 0h1m18 0h1m1 0h1m5 0h1m1 0h1m3 0h1m12 0h1m7 0h1m1 0h4m2 0h5M285 381.5h1m1 0h1m2 0h1m1 0h2m2 0h1m12 0h1m4 0h1m18 0h1m1 0h1m3 0h2m4 0h1m1 0h1m13 0h1m1 0h1m1 0h2m1 0h2m3 0h1m1 0h1m1 0h1m2 0h1M293 382.5h1m1 0h1m1 0h1m4 0h1m12 0h1m8 0h3m1 0h1m1 0h1m3 0h1m1 0h1m1 0h3m2 0h1m1 0h2m4 0h1m5 0h2m2 0h4m1 0h1m3 0h1m1 0h2m2 0h1M286 383.5h1m2 0h1m1 0h1m2 0h2m6 0h2m2 0h1m3 0h1m1 0h1m11 0h2m13 0h1m4 0h1m1 0h1m1 0h1m3 0h3m1 0h1m1 0h1m1 0h2m6 0h1M289 384.5h1m3 0h1m3 0h1m8 0h1m1 0h1m3 0h1m4 0h1m1 0h2m1 0h1m4 0h1m5 0h1m4 0h1m2 0h2m2 0h1m6 0h1m2 0h2m1 0h1m3 0h4m5 0h1m1 0h1M287 385.5h1m1 0h1m4 0h1m12 0h2m9 0h1m3 0h1m2 0h1m1 0h1m7 0h1m1 0h2m6 0h1m4 0h1m1 0h6m8 0h1m3 0h3m1 0h2m1 0h1M287 386.5h1m1 0h1m1 0h1m5 0h2m7 0h2m2 0h1m5 0h1m2 0h1m2 0h1m1 0h1m3 0h1m7 0h1m8 0h1m2 0h1m2 0h1m1 0h1m3 0h3m4 0h1m2 0h1m2 0h1m4 0h1M291 387.5h4m1 0h2m1 0h1m7 0h1m6 0h1m6 0h2m4 0h2m1 0h1m1 0h2m1 0h1m2 0h2m3 0h1m3 0h1m2 0h1m2 0h1m1 0h2m1 0h2m1 0h2m2 0h1m4 0h2m3 0h1m3 0h1M288 388.5h1m1 0h1m1 0h1m2 0h1m2 0h2m1 0h2m3 0h1m5 0h2m2 0h3m1 0h1m1 0h2m1 0h2m1 0h1m1 0h1m2 0h2m1 0h4m12 0h2m1 0h1m2 0h1m4 0h3m1 0h2m2 0h2m7 0h1M293 389.5h2m2 0h1m1 0h1m5 0h2m1 0h1m1 0h2m1 0h4m1 0h1m1 0h1m1 0h1m7 0h2m5 0h2m5 0h1m4 0h1m1 0h3m4 0h3m1 0h1m1 0h1m6 0h1m1 0h2M291 390.5h1m7 0h2m1 0h1m1 0h1m7 0h1m2 0h1m4 0h1m1 0h1m1 0h1m5 0h1m4 0h1m4 0h1m3 0h1m1 0h2m5 0h4m1 0h2m5 0h1m5 0h1M287 391.5h1m7 0h1m7 0h2m1 0h2m4 0h1m3 0h1m1 0h2m1 0h1m1 0h2m2 0h1m2 0h2m1 0h1m4 0h2m4 0h2m2 0h2m2 0h3m2 0h1m4 0h1m1 0h1M291 392.5h1m2 0h1m12 0h1m2 0h1m1 0h5m2 0h2m1 0h1m1 0h1m1 0h2m1 0h2m5 0h1m3 0h1m2 0h4m5 0h1m3 0h2m2 0h2m3 0h1M296 393.5h1m1 0h1m2 0h2m4 0h1m2 0h1m1 0h6m4 0h1m2 0h1m1 0h3m2 0h2m10 0h1m3 0h1m3 0h1m3 0h1m5 0h1m9 0h1M298 394.5h1m1 0h4m1 0h1m2 0h7m4 0h1m3 0h1m11 0h1m4 0h1m4 0h1m9 0h1m8 0h1M300 395.5h1m5 0h2m3 0h1m6 0h1m2 0h1m2 0h2m6 0h1m8 0h1m1 0h1m10 0h1m6 0h1m7 0h1M298 396.5h1m4 0h1m4 0h1m8 0h2m4 0h1m1 0h1m9 0h1m3 0h4m6 0h1M301 397.5h2m1 0h1m5 0h1m1 0h1m2 0h1m3 0h1m10 0h1m11 0h1m1 0h1" stroke="#474747"/>
<path d="M347 332.5h1m3 0h1M317 333.5h1m24 0h1m9 0h1m4 0h1M350 334.5h1m5 0h2M334 335.5h1m4 0h1m6 0h1m5 0h1M336 336.5h1m16 0h1M340 337.5h1m5 0h1m2 0h1m7 0h1M345 338.5h1m11 0h1M353 339.5h1M356 340.5h1M347 363.5h1M347 364.5h1m2 0h1m1 0h1m3 0h1m16 0h1M313 365.5h1m26 0h1m2 0h1m3 0h1m1 0h1m5 0h1m5 0h2m7 0h1m1 0h1m1 0h1M332 366.5h1m4 0h1m1 0h1m5 0h1m1 0h4m4 0h1m5 0h3m3 0h2M306 367.5h1m7 0h2m2 0h1m10 0h1m3 0h1m1 0h2m4 0h1m1 0h2m5 0h1m1 0h1m1 0h4m1 0h1m3 0h1m1 0h1m4 0h1M296 368.5h1m7 0h1m7 0h1m2 0h1m16 0h1m3 0h2m1 0h1m5 0h1m2 0h1m1 0h1m1 0h1m1 0h3m1 0h1m2 0h1m1 0h1m2 0h1m1 0h2m2 0h1M298 369.5h1m5 0h1m2 0h1m4 0h1m1 0h2m1 0h1m3 0h2m2 0h2m1 0h1m1 0h1m5 0h1m1 0h2m3 0h1m2 0h2m1 0h6m4 0h2m1 0h5m2 0h1M299 370.5h1m4 0h1m1 0h1m4 0h1m1 0h3m1 0h3m1 0h2m8 0h2m3 0h5m2 0h2m1 0h2m1 0h2m3 0h11m1 0h1m1 0h2m3 0h1M295 371.5h1m1 0h4m1 0h10m1 0h2m1 0h6m1 0h3m1 0h2m1 0h2m1 0h1m1 0h1m1 0h1m1 0h2m2 0h1m3 0h1m3 0h2m1 0h3m1 0h9m1 0h2m4 0h2M294 372.5h1m5 0h1m1 0h3m1 0h3m1 0h13m1 0h3m1 0h3m2 0h4m3 0h2m1 0h3m1 0h3m1 0h5m1 0h5m1 0h3m1 0h1m1 0h2m2 0h1M295 373.5h1m1 0h7m2 0h4m2 0h4m1 0h10m2 0h1m1 0h2m3 0h4m1 0h7m1 0h11m1 0h5m1 0h1m1 0h3m2 0h2m10 0h1M291 374.5h1m6 0h8m1 0h2m1 0h3m1 0h2m1 0h5m1 0h4m1 0h1m5 0h2m1 0h1m1 0h4m2 0h1m2 0h5m1 0h2m1 0h14m1 0h3m2 0h3M295 375.5h1m1 0h8m1 0h16m2 0h4m1 0h6m2 0h1m1 0h1m1 0h8m1 0h11m1 0h7m1 0h1m5 0h1m4 0h1M291 376.5h1m1 0h1m2 0h1m2 0h3m2 0h4m1 0h8m2 0h8m1 0h2m1 0h1m2 0h1m1 0h6m1 0h1m1 0h4m1 0h2m2 0h12m1 0h2m5 0h1M291 377.5h1m2 0h18m1 0h12m1 0h1m1 0h3m1 0h1m1 0h1m1 0h4m1 0h1m1 0h12m1 0h8m3 0h1m1 0h2m1 0h2M291 378.5h1m1 0h2m1 0h1m1 0h3m1 0h16m1 0h5m1 0h2m1 0h1m2 0h10m2 0h1m1 0h7m1 0h6m1 0h8m1 0h2m4 0h2m1 0h1M290 379.5h1m4 0h4m2 0h9m1 0h1m1 0h4m1 0h1m3 0h6m1 0h4m1 0h3m1 0h2m4 0h1m2 0h1m2 0h2m2 0h7m2 0h3m1 0h4m1 0h1M293 380.5h1m4 0h3m2 0h8m1 0h18m1 0h1m1 0h5m1 0h1m1 0h3m1 0h4m2 0h6m1 0h4m1 0h2m1 0h1M294 381.5h2m2 0h11m1 0h4m1 0h18m1 0h1m1 0h3m3 0h1m1 0h1m1 0h1m1 0h13m1 0h1m1 0h1m6 0h1m4 0h1M290 382.5h1m5 0h1m2 0h3m1 0h12m1 0h8m3 0h1m1 0h1m1 0h1m1 0h1m1 0h1m1 0h1m4 0h1m1 0h1m2 0h2m1 0h1m1 0h5m2 0h2m4 0h1m1 0h3M293 383.5h1m3 0h5m2 0h2m1 0h3m1 0h1m1 0h11m2 0h5m1 0h3m1 0h2m2 0h4m1 0h1m3 0h3m3 0h1m1 0h1m1 0h1m2 0h4m3 0h1m2 0h1m4 0h1M291 384.5h1m6 0h8m1 0h1m1 0h3m1 0h4m1 0h1m2 0h1m1 0h4m1 0h5m1 0h4m2 0h1m2 0h2m1 0h1m1 0h1m1 0h2m1 0h2m4 0h2m5 0h2m1 0h2m1 0h1M292 385.5h1m2 0h4m2 0h6m2 0h9m1 0h3m1 0h2m1 0h1m1 0h7m6 0h1m1 0h2m1 0h1m2 0h1m9 0h5m1 0h1m1 0h1m1 0h1m3 0h1M294 386.5h2m3 0h1m1 0h5m2 0h2m1 0h5m1 0h2m1 0h2m1 0h1m1 0h3m1 0h1m1 0h1m1 0h1m3 0h1m2 0h1m1 0h3m1 0h2m2 0h1m1 0h1m1 0h3m3 0h1m1 0h2m1 0h2m5 0h1M298 387.5h1m1 0h7m1 0h6m1 0h6m2 0h4m2 0h1m1 0h1m2 0h1m1 0h2m7 0h1m3 0h1m1 0h2m1 0h1m2 0h1m2 0h1m7 0h1M300 388.5h1m2 0h2m2 0h3m1 0h1m2 0h2m3 0h1m1 0h1m2 0h1m4 0h1m1 0h2m2 0h1m4 0h3m3 0h1m4 0h1m2 0h1m1 0h1m3 0h1M298 389.5h1m2 0h1m1 0h2m2 0h1m1 0h1m7 0h1m1 0h1m4 0h6m9 0h2m1 0h1m2 0h1m17 0h1m13 0h1M294 390.5h1m6 0h1m1 0h1m4 0h1m1 0h1m5 0h1m1 0h2m1 0h1m1 0h1m8 0h3m1 0h1m1 0h1m9 0h1m2 0h2m7 0h1m1 0h1m7 0h1M298 391.5h1m6 0h1m4 0h2m2 0h1m5 0h1m14 0h1m6 0h1m16 0h1M303 392.5h1m1 0h2m1 0h2m8 0h1m9 0h1m6 0h1m6 0h1m27 0h1M303 393.5h1m2 0h1m11 0h1m4 0h1m13 0h1m4 0h1m3 0h1m2 0h1m1 0h1M299 394.5h1m4 0h1m2 0h1m7 0h1m9 0h1m5 0h1m4 0h1m20 0h1M305 395.5h1m10 0h1m6 0h1m12 0h1M307 396.5h1m5 0h1M298 397.5h1m37 0h1" stroke="#0a0a0a"/>
<path d="M468 312.5h1M404 316.5h1m24 0h1m77 0h1M453 317.5h1M468 322.5h2m4 0h1m3 0h1M463 323.5h1m19 0h1m5 0h1M436 324.5h1m4 0h2M450 325.5h2m1 0h1m3 0h1m2 0h1m3 0h1m12 0h1m3 0h1M429 326.5h1m13 0h2m14 0h1m1 0h1m2 0h1m2 0h2m2 0h1m1 0h1m11 0h1m12 0h1M436 327.5h1m8 0h2m1 0h1m4 0h1m8 0h1m2 0h1m4 0h2m2 0h1m2 0h1m1 0h1m4 0h1m4 0h1M414 328.5h1m14 0h1m7 0h1m2 0h1m2 0h3m3 0h2m1 0h1m2 0h1m1 0h1m3 0h1m6 0h2m1 0h4m2 0h1m1 0h1m3 0h1m3 0h1m2 0h1m4 0h1M405 329.5h1m14 0h1m9 0h1m7 0h1m4 0h4m2 0h1m3 0h3m2 0h2m1 0h1m3 0h1m2 0h2m1 0h1m1 0h1m2 0h6m11 0h1m2 0h1m4 0h1M422 330.5h2m6 0h1m1 0h6m1 0h2m1 0h3m1 0h1m4 0h2m2 0h2m2 0h1m5 0h2m2 0h1m2 0h4m5 0h1m4 0h1m1 0h1m11 0h1m1 0h2M424 331.5h1m3 0h2m1 0h3m8 0h1m2 0h2m3 0h1m1 0h5m1 0h4m3 0h1m1 0h1m3 0h2m2 0h3m3 0h1m1 0h1m1 0h1m2 0h1m5 0h1M397 332.5h1m22 0h1m2 0h1m1 0h1m1 0h1m1 0h1m3 0h3m2 0h1m13 0h1m3 0h1m3 0h1m1 0h1m4 0h3m1 0h1m3 0h2m4 0h5m4 0h1m6 0h1M421 333.5h1m2 0h3m5 0h2m4 0h1m2 0h1m1 0h1m5 0h1m6 0h1m3 0h1m1 0h1m12 0h1m1 0h1m4 0h4m2 0h1m1 0h1m2 0h1m1 0h2m3 0h1M414 334.5h1m9 0h1m1 0h1m2 0h1m1 0h1m1 0h2m4 0h1m2 0h1m6 0h1m2 0h1m23 0h2m2 0h1m1 0h1m8 0h1m1 0h1m1 0h1M421 335.5h1m2 0h1m5 0h2m4 0h1m1 0h4m3 0h2m3 0h1m2 0h2m6 0h2m9 0h1m3 0h3m1 0h1m2 0h1m2 0h2m1 0h1M403 336.5h1m14 0h1m1 0h1m1 0h2m2 0h1m2 0h1m3 0h1m3 0h2m7 0h3m1 0h1m2 0h1m2 0h3m2 0h2m6 0h1m6 0h1m1 0h1m2 0h3m1 0h2m1 0h2m3 0h1m3 0h1M421 337.5h1m2 0h1m7 0h3m5 0h5m3 0h2m4 0h2m3 0h1m2 0h2m2 0h1m4 0h3m1 0h1m2 0h1m1 0h4m2 0h1m1 0h1m1 0h1m3 0h1m11 0h1M410 338.5h1m5 0h1m5 0h1m9 0h1m5 0h1m1 0h1m5 0h1m2 0h1m2 0h1m16 0h1m4 0h1m1 0h2m1 0h1m1 0h1m5 0h2m7 0h1M427 339.5h1m1 0h1m6 0h1m4 0h2m1 0h1m2 0h2m1 0h1m1 0h1m9 0h1m1 0h3m2 0h2m4 0h2m1 0h2m1 0h1m2 0h2m3 0h1m3 0h1m7 0h1M432 340.5h1m1 0h1m1 0h1m5 0h3m1 0h2m1 0h3m2 0h1m2 0h1m5 0h2m1 0h1m6 0h1m5 0h1m5 0h1m2 0h2m3 0h1m2 0h1M425 341.5h1m2 0h1m1 0h1m2 0h2m1 0h1m4 0h1m1 0h1m2 0h1m2 0h2m4 0h1m1 0h1m1 0h1m4 0h2m2 0h1m2 0h1m3 0h1m1 0h1m4 0h3m16 0h1m5 0h1M424 342.5h1m11 0h1m9 0h2m2 0h2m3 0h1m3 0h1m4 0h1m1 0h4m1 0h2m2 0h4m9 0h1m10 0h1m5 0h1M429 343.5h1m3 0h1m1 0h1m6 0h1m2 0h1m1 0h1m2 0h1m4 0h1m1 0h2m8 0h1m3 0h4m1 0h1m3 0h1m1 0h1m1 0h1m9 0h1M418 344.5h1m10 0h1m5 0h1m3 0h1m15 0h4m1 0h1m2 0h2m6 0h3m7 0h1m14 0h1M416 345.5h1m19 0h1m12 0h1m11 0h2m1 0h1m2 0h2m1 0h1m1 0h1m2 0h1m5 0h1M413 346.5h1m25 0h1m14 0h1m18 0h1m4 0h1m4 0h3M432 347.5h1m16 0h1m4 0h1m1 0h1m6 0h2m1 0h1m1 0h1m5 0h1m1 0h1m4 0h2M436 348.5h1m7 0h1m12 0h2m15 0h2m1 0h1M428 349.5h1m17 0h1m3 0h1m45 0h1m1 0h1m2 0h1M458 350.5h1m29 0h1M458 351.5h1M449 352.5h1M412 353.5h1M420 355.5h2M419 357.5h1m4 0h1m1 0h1m2 0h1m1 0h1m30 0h1M416 358.5h1m6 0h1m5 0h1m1 0h2M409 359.5h1m2 0h1m3 0h2m1 0h1m3 0h3m2 0h1m2 0h1m1 0h2m9 0h1m13 0h1m2 0h1m3 0h1m18 0h1m1 0h1m3 0h1M414 360.5h1m5 0h2m1 0h1m1 0h1m4 0h1m4 0h2m1 0h2m1 0h1m20 0h1m3 0h1m6 0h1m2 0h1m1 0h1m1 0h1m5 0h1m1 0h1m10 0h1M411 361.5h1m1 0h1m5 0h1m1 0h1m1 0h2m4 0h2m3 0h2m1 0h1m2 0h1m16 0h1m4 0h1m1 0h2m1 0h2m1 0h2m2 0h3m4 0h1m1 0h1m2 0h2m3 0h3m2 0h1M409 362.5h1m1 0h1m1 0h1m1 0h1m1 0h1m2 0h1m3 0h1m5 0h2m4 0h1m10 0h2m1 0h1m1 0h2m3 0h1m1 0h1m1 0h3m2 0h3m1 0h3m2 0h4m1 0h3m1 0h3m2 0h2m2 0h1m12 0h1M407 363.5h1m4 0h2m3 0h1m3 0h1m2 0h1m3 0h1m1 0h2m3 0h2m3 0h1m2 0h1m4 0h2m3 0h1m5 0h2m1 0h2m2 0h1m2 0h2m1 0h2m2 0h2m2 0h1m3 0h3m1 0h1m1 0h2m1 0h2m1 0h1M405 364.5h1m1 0h1m1 0h1m5 0h1m1 0h1m11 0h1m1 0h1m1 0h2m2 0h1m4 0h1m1 0h1m1 0h1m2 0h2m1 0h2m2 0h2m1 0h2m3 0h1m1 0h2m1 0h1m6 0h1m2 0h1m2 0h1m2 0h1m3 0h1m1 0h2m1 0h1m2 0h1m6 0h1M404 365.5h1m1 0h1m3 0h2m1 0h2m16 0h1m8 0h3m1 0h2m1 0h1m3 0h1m2 0h1m4 0h4m2 0h1m1 0h2m10 0h2m3 0h1m1 0h3m1 0h1m4 0h1m2 0h2m2 0h1M402 366.5h1m4 0h1m4 0h5m19 0h1m6 0h1m1 0h1m2 0h3m3 0h1m3 0h1m12 0h1m2 0h1m5 0h1m1 0h2m3 0h2m1 0h3m1 0h3m2 0h1m2 0h1M402 367.5h1m3 0h2m14 0h1m8 0h1m6 0h1m3 0h1m1 0h2m1 0h1m1 0h1m4 0h1m3 0h1m2 0h1m5 0h1m6 0h1m5 0h1m2 0h1m3 0h1m4 0h1m7 0h1m3 0h1M398 368.5h1m2 0h1m1 0h1m2 0h2m1 0h2m1 0h1m26 0h1m4 0h1m5 0h1m3 0h1m4 0h1m8 0h1m18 0h1m2 0h1m2 0h1m2 0h3m2 0h2m2 0h1M399 369.5h1m6 0h2m9 0h1m26 0h2m23 0h1m17 0h1m7 0h6m2 0h1M407 370.5h1m39 0h1m5 0h1m6 0h1m15 0h1m18 0h1m1 0h1m2 0h2m3 0h1m2 0h1M404 371.5h1m1 0h3m1 0h1m35 0h2m1 0h1m27 0h1m3 0h1m9 0h1m1 0h2m2 0h3m2 0h2m1 0h1M405 372.5h1m1 0h1m31 0h2m2 0h1m3 0h1m8 0h1m1 0h1m1 0h1m8 0h1m8 0h1m12 0h1m1 0h1m3 0h1m2 0h4m5 0h1M405 373.5h1m1 0h1m40 0h1m17 0h1m1 0h1m3 0h1m2 0h1m1 0h1m12 0h1m5 0h2m1 0h3m5 0h1M404 374.5h1m1 0h1m49 0h1m1 0h1m17 0h1m6 0h1m18 0h1m4 0h1M406 375.5h1m1 0h1m29 0h1m5 0h1m6 0h1m4 0h1m24 0h2m3 0h1m1 0h1m3 0h2m3 0h1m1 0h2m1 0h1m3 0h1M403 376.5h1m2 0h1m2 0h1m20 0h1m12 0h1m4 0h1m5 0h1m17 0h1m8 0h2m5 0h1m3 0h3m1 0h1m1 0h2m2 0h1M401 377.5h1m3 0h1m35 0h1m3 0h1m6 0h1m11 0h1m3 0h1m1 0h1m7 0h1m18 0h1m1 0h1m2 0h1m5 0h1M398 378.5h2m4 0h1m2 0h2m35 0h2m6 0h1m8 0h1m6 0h1m7 0h1m7 0h1m5 0h1m1 0h1m1 0h1m9 0h1M402 379.5h1m2 0h2m3 0h1m32 0h1m5 0h2m2 0h1m2 0h1m18 0h1m7 0h1m8 0h1m2 0h1m5 0h3m1 0h2M399 380.5h1m3 0h1m1 0h2m1 0h1m31 0h1m2 0h1m2 0h1m5 0h1m10 0h1m1 0h1m15 0h1m12 0h1m3 0h1m1 0h2m1 0h1m1 0h1M403 381.5h1m1 0h1m1 0h1m42 0h1m4 0h1m6 0h1m1 0h1m6 0h1m1 0h1m6 0h1m1 0h1m3 0h1m5 0h2m8 0h1m6 0h1M400 382.5h1m2 0h1m2 0h1m3 0h2m31 0h1m19 0h1m13 0h1m5 0h1m1 0h1m1 0h1m2 0h2m3 0h1m4 0h2m4 0h1m2 0h1M401 383.5h1m5 0h3m1 0h2m31 0h1m1 0h2m2 0h2m32 0h2m9 0h3m4 0h1M402 384.5h1m4 0h2m1 0h2m26 0h1m5 0h2m5 0h1m2 0h1m2 0h1m2 0h1m1 0h2m1 0h1m6 0h1m3 0h2m3 0h1m7 0h2m1 0h3m1 0h1m4 0h1M400 385.5h1m4 0h2m2 0h1m2 0h1m25 0h1m19 0h1m2 0h1m3 0h1m4 0h1m1 0h2m5 0h1m7 0h1m3 0h2m2 0h1m1 0h2m1 0h1m3 0h1M404 386.5h1m1 0h1m1 0h1m2 0h1m4 0h1m13 0h1m2 0h1m3 0h2m3 0h8m3 0h1m3 0h1m8 0h1m4 0h1m1 0h1m2 0h1m1 0h1m2 0h1m2 0h1m2 0h2m2 0h2m2 0h1m2 0h2m1 0h1m1 0h1M407 387.5h1m1 0h1m1 0h1m8 0h1m1 0h1m10 0h1m3 0h1m3 0h1m1 0h1m4 0h1m2 0h1m16 0h1m1 0h2m1 0h1m7 0h2m3 0h1m3 0h2m1 0h2m6 0h2M407 388.5h1m2 0h3m1 0h1m1 0h1m14 0h3m2 0h4m3 0h1m4 0h4m7 0h1m4 0h1m2 0h2m3 0h2m4 0h2m2 0h2m2 0h2m2 0h1m2 0h2m9 0h1M404 389.5h1m3 0h1m8 0h1m1 0h2m3 0h1m2 0h1m3 0h1m1 0h1m3 0h1m1 0h1m1 0h1m3 0h2m5 0h1m4 0h2m1 0h3m2 0h1m2 0h2m1 0h2m1 0h1m2 0h1m1 0h3m1 0h2m3 0h1m2 0h1m1 0h1m1 0h1m1 0h1m5 0h1M411 390.5h1m2 0h2m4 0h1m1 0h2m11 0h1m2 0h1m3 0h3m6 0h3m2 0h1m1 0h1m3 0h1m1 0h4m2 0h5m1 0h1m1 0h2m1 0h1m7 0h2m2 0h1m1 0h1m1 0h2m1 0h1m7 0h1M410 391.5h1m2 0h1m3 0h1m5 0h3m1 0h1m1 0h1m1 0h1m6 0h1m6 0h2m1 0h4m1 0h2m8 0h1m1 0h1m2 0h2m1 0h5m3 0h1m1 0h2m6 0h3m3 0h1m1 0h1m3 0h1M398 392.5h1m10 0h1m3 0h5m1 0h2m4 0h3m4 0h2m1 0h1m5 0h3m1 0h2m1 0h3m4 0h1m3 0h2m1 0h1m1 0h3m6 0h3m2 0h1m2 0h1m2 0h2m1 0h1m3 0h2m3 0h1m8 0h1M399 393.5h1m13 0h1m1 0h1m1 0h1m4 0h2m2 0h1m1 0h2m2 0h2m10 0h2m2 0h2m4 0h1m1 0h4m1 0h1m3 0h2m6 0h1m2 0h1m3 0h2m4 0h1m1 0h1m3 0h2m1 0h1m4 0h1m1 0h1M421 394.5h1m1 0h1m1 0h1m5 0h3m4 0h1m1 0h1m4 0h1m4 0h2m1 0h1m1 0h1m3 0h6m5 0h1m3 0h4m2 0h3m3 0h3m1 0h1M408 395.5h1m8 0h1m2 0h1m1 0h3m6 0h1m1 0h1m1 0h3m2 0h1m1 0h3m1 0h4m1 0h3m3 0h3m6 0h1m5 0h1m2 0h1m1 0h1m2 0h1m4 0h1m2 0h1m4 0h1m2 0h1m6 0h2M405 396.5h1m12 0h4m1 0h1m5 0h1m3 0h1m1 0h1m1 0h1m2 0h1m4 0h1m1 0h1m2 0h1m2 0h3m3 0h1m3 0h2m1 0h1m2 0h2m2 0h3m5 0h2m3 0h1m1 0h1m1 0h1m1 0h2m2 0h1M418 397.5h1m1 0h2m5 0h1m8 0h1m3 0h1m11 0h1m1 0h1m5 0h1m2 0h1m2 0h1m5 0h1m1 0h1m1 0h1m3 0h1m6 0h1m6 0h1m1 0h1" stroke="#c2c2c2"/>
<path d="M439 326.5h1m14 0h1M430 327.5h1m23 0h1m3 0h2m1 0h1M422 328.5h1m30 0h1m5 0h1m4 0h1m1 0h2m16 0h2M434 329.5h1m1 0h1m11 0h1m1 0h2m4 0h1m5 0h1m4 0h1m7 0h1m11 0h1M438 330.5h1m11 0h1m9 0h1m1 0h3m2 0h1m9 0h1m5 0h1m3 0h1M427 331.5h1m12 0h1m2 0h1m3 0h2m8 0h1m4 0h1m3 0h1m2 0h2m3 0h1m5 0h1M431 332.5h1m8 0h2m2 0h2m1 0h3m5 0h1m3 0h1m4 0h1m5 0h1m2 0h2m2 0h1m16 0h1M429 333.5h2m11 0h1m1 0h1m2 0h1m2 0h1m2 0h1m1 0h1m1 0h3m3 0h1m1 0h1m1 0h1m2 0h1m1 0h2m4 0h4m5 0h1m1 0h1M425 334.5h1m6 0h1m10 0h1m2 0h3m4 0h1m2 0h3m1 0h2m1 0h4m1 0h5m6 0h1m1 0h1m1 0h1m1 0h1m1 0h1M423 335.5h1m2 0h1m6 0h1m3 0h1m4 0h3m2 0h1m1 0h1m5 0h2m1 0h1m5 0h2m3 0h1m1 0h1m3 0h1m5 0h2m5 0h1M432 336.5h1m1 0h1m5 0h2m7 0h1m4 0h1m4 0h2m3 0h2m1 0h2m1 0h2m2 0h1m4 0h1m4 0h1M431 337.5h1m5 0h2m6 0h2m13 0h1m7 0h1m1 0h1m3 0h1m1 0h2m1 0h1m17 0h1M433 338.5h1m7 0h4m5 0h1m2 0h1m1 0h1m1 0h4m1 0h1m1 0h1m2 0h1m2 0h2m1 0h1m1 0h1m2 0h1m3 0h1m3 0h1M437 339.5h1m1 0h1m3 0h1m1 0h1m3 0h1m1 0h1m4 0h1m2 0h3m6 0h1m2 0h4m2 0h1m2 0h1m1 0h1M445 340.5h1m7 0h1m1 0h1m2 0h4m5 0h2m1 0h2m2 0h1m1 0h3m3 0h1m1 0h1m1 0h1M439 341.5h2m11 0h2m2 0h1m1 0h1m1 0h4m2 0h2m4 0h2m5 0h1M442 342.5h1m5 0h1m5 0h1m7 0h1m2 0h1m19 0h1m1 0h1M454 343.5h1m28 0h1M467 344.5h1m2 0h1m3 0h1M465 346.5h1M455 348.5h1M418 358.5h1m5 0h1m3 0h1M418 359.5h1m1 0h1m64 0h1M422 360.5h1m5 0h1m3 0h1m30 0h1M415 361.5h1m6 0h1m2 0h1m2 0h1M418 362.5h2m1 0h1m1 0h1m1 0h3m7 0h1m13 0h1m1 0h1m8 0h1m3 0h1m8 0h1m5 0h1m11 0h1M410 363.5h1m3 0h1m10 0h1m1 0h1m5 0h1m3 0h1m1 0h1m6 0h2m16 0h1m6 0h1m3 0h1m5 0h1m1 0h1m3 0h1m7 0h1m1 0h1M414 364.5h1m1 0h1m1 0h1m1 0h1m1 0h1m2 0h1m2 0h1m1 0h1m1 0h1m5 0h2m1 0h1m13 0h1m5 0h1m1 0h1m4 0h1m1 0h2m5 0h1m3 0h1m2 0h1m1 0h1m13 0h1M415 365.5h1m1 0h1m3 0h1m1 0h1m2 0h2m2 0h1m2 0h2m1 0h1m6 0h1m2 0h1m2 0h2m2 0h1m2 0h1m1 0h1m4 0h2m1 0h1m2 0h1m1 0h1m4 0h1m8 0h1m5 0h3m2 0h1M410 366.5h2m9 0h3m2 0h1m2 0h1m3 0h1m1 0h1m3 0h1m4 0h1m2 0h1m3 0h1m1 0h1m2 0h1m3 0h1m2 0h1m4 0h3m6 0h3m4 0h3m2 0h1m15 0h1M408 367.5h1m1 0h1m4 0h2m9 0h1m5 0h1m2 0h1m3 0h2m5 0h1m3 0h2m1 0h1m1 0h3m2 0h1m1 0h1m3 0h1m1 0h1m1 0h2m4 0h1m1 0h2m1 0h1m6 0h1m5 0h2M411 368.5h1m1 0h1m2 0h1m3 0h1m17 0h1m1 0h2m1 0h1m3 0h1m3 0h2m4 0h1m7 0h1m1 0h1m1 0h2m5 0h1m5 0h5m2 0h1m4 0h2m3 0h1M409 369.5h2m1 0h2m5 0h1m14 0h1m4 0h2m1 0h1m5 0h1m1 0h2m1 0h1m1 0h1m1 0h1m4 0h1m2 0h4m3 0h1m1 0h1m1 0h1m2 0h1m1 0h2m1 0h1m3 0h3m3 0h1M408 370.5h1m4 0h1m1 0h1m13 0h1m8 0h3m1 0h3m3 0h3m3 0h1m1 0h3m3 0h1m9 0h1m6 0h1m1 0h1m2 0h1m3 0h1m2 0h2m1 0h1m3 0h2M412 371.5h1m26 0h1m2 0h1m1 0h1m5 0h3m3 0h1m1 0h3m2 0h1m1 0h1m2 0h1m1 0h2m4 0h1m10 0h1m2 0h1m10 0h1M406 372.5h1m1 0h3m4 0h1m25 0h2m2 0h2m1 0h1m3 0h2m3 0h1m1 0h1m3 0h2m5 0h1m1 0h2m2 0h1m6 0h1m1 0h1m4 0h1m1 0h1m1 0h1m1 0h1m1 0h1M408 373.5h1m1 0h1m16 0h1m12 0h1m1 0h1m3 0h1m2 0h1m2 0h1m6 0h1m4 0h1m5 0h2m6 0h1m3 0h1m1 0h1m2 0h1m1 0h1m2 0h1m1 0h2m2 0h1M402 374.5h1m7 0h1m3 0h1m23 0h1m2 0h3m2 0h1m1 0h3m1 0h1m4 0h1m3 0h2m4 0h3m4 0h1m3 0h2m4 0h1m5 0h1m1 0h1m4 0h2m6 0h1M409 375.5h3m24 0h1m4 0h2m5 0h1m1 0h1m1 0h1m2 0h1m3 0h1m4 0h2m1 0h1m7 0h2m7 0h1m2 0h1m1 0h3m2 0h2m2 0h1M405 376.5h1m5 0h1m1 0h1m9 0h1m2 0h1m10 0h1m2 0h1m1 0h1m8 0h1m4 0h2m2 0h1m3 0h1m1 0h1m6 0h1m2 0h2m2 0h1m2 0h1m6 0h1m6 0h1m3 0h1M403 377.5h2m1 0h1m1 0h3m5 0h1m17 0h1m11 0h1m3 0h2m5 0h1m1 0h1m5 0h2m2 0h1m1 0h5m3 0h1m1 0h1m3 0h2m1 0h1m1 0h2m1 0h1m1 0h1m5 0h1M409 378.5h1m1 0h1m26 0h1m3 0h1m3 0h1m3 0h2m3 0h1m2 0h1m3 0h1m2 0h1m4 0h2m1 0h2m8 0h1m11 0h1m1 0h1m1 0h2m4 0h1M413 379.5h1m23 0h2m2 0h1m2 0h2m5 0h1m2 0h1m2 0h1m2 0h2m6 0h2m1 0h1m2 0h1m2 0h1m6 0h1m2 0h4m2 0h2m1 0h1m3 0h1M407 380.5h1m1 0h1m1 0h1m2 0h1m17 0h1m9 0h1m1 0h1m3 0h1m1 0h1m4 0h1m2 0h1m9 0h2m1 0h1m4 0h2m4 0h2m4 0h2m5 0h1m1 0h1m8 0h1M410 381.5h1m3 0h1m29 0h6m7 0h2m2 0h1m3 0h1m2 0h3m1 0h1m8 0h1m2 0h1m3 0h2m1 0h1m3 0h1m1 0h1m1 0h2M409 382.5h1m5 0h1m3 0h1m3 0h1m5 0h1m2 0h2m1 0h2m3 0h3m1 0h1m5 0h5m2 0h2m2 0h1m3 0h1m1 0h1m1 0h3m4 0h1m2 0h1m2 0h1m1 0h1m7 0h1m4 0h1M403 383.5h1m6 0h1m3 0h1m16 0h1m2 0h1m2 0h1m4 0h1m6 0h1m2 0h4m1 0h3m5 0h2m1 0h2m1 0h1m3 0h1m2 0h1m2 0h1m1 0h1m3 0h2m1 0h2m6 0h1M406 384.5h1m9 0h1m4 0h4m10 0h1m1 0h1m5 0h1m9 0h1m7 0h1m5 0h4m3 0h1m4 0h2m3 0h1m3 0h1m10 0h1M408 385.5h1m1 0h2m1 0h4m1 0h1m13 0h1m2 0h3m1 0h1m1 0h1m1 0h2m1 0h2m3 0h5m7 0h1m2 0h1m1 0h2m5 0h3m2 0h2m1 0h4m1 0h3m2 0h1m2 0h1M407 386.5h1m5 0h3m4 0h1m4 0h4m7 0h1m4 0h1m10 0h1m2 0h1m3 0h1m1 0h3m16 0h1m1 0h2m1 0h2m3 0h1m2 0h2m1 0h1M410 387.5h1m1 0h1m1 0h3m1 0h2m3 0h1m1 0h2m1 0h3m3 0h1m4 0h1m5 0h1m3 0h2m1 0h2m1 0h7m1 0h2m7 0h1m2 0h1m1 0h3m3 0h1m4 0h1m3 0h1m2 0h1m3 0h1M409 388.5h1m3 0h1m1 0h1m2 0h1m1 0h2m12 0h2m4 0h3m4 0h1m4 0h1m1 0h3m5 0h1m6 0h2m5 0h2m2 0h1m3 0h2m2 0h2m1 0h2m8 0h1M412 389.5h1m2 0h1m9 0h1m2 0h3m4 0h2m1 0h1m1 0h1m1 0h1m1 0h1m2 0h1m1 0h1m1 0h1m2 0h2m3 0h1m7 0h1m2 0h1m2 0h1m1 0h1m2 0h1m6 0h3m2 0h1m1 0h1M410 390.5h1m5 0h4m1 0h1m3 0h2m2 0h1m1 0h1m4 0h1m8 0h1m2 0h2m9 0h1m9 0h1m13 0h1m1 0h1m2 0h1M421 391.5h1m4 0h1m1 0h1m4 0h1m2 0h1m3 0h2m5 0h1m8 0h3m2 0h1m5 0h1m8 0h1m1 0h1m4 0h2m1 0h2m5 0h1M423 392.5h1m4 0h1m1 0h2m2 0h1m1 0h1m3 0h1m13 0h1m1 0h1m11 0h1m3 0h1m4 0h1m4 0h2M412 393.5h1m7 0h1m4 0h1m12 0h1m4 0h1m7 0h3m8 0h1m4 0h1m1 0h2m1 0h1m1 0h2m1 0h1m5 0h2m2 0h1M419 394.5h1m6 0h1m2 0h1m4 0h2m22 0h1m7 0h1m1 0h1m2 0h1m6 0h1m20 0h1M428 395.5h2m20 0h1m11 0h1m6 0h2m7 0h2M422 396.5h1m25 0h1m8 0h1m13 0h1m4 0h1m17 0h1M467 397.5h2m21 0h1" stroke="#848484"/>
<path d="M466 329.5h1m3 0h1M449 330.5h1m4 0h1m6 0h1M473 331.5h1M450 332.5h2m1 0h2m3 0h1m4 0h1m1 0h2m5 0h1m5 0h3M437 333.5h1m14 0h1m1 0h1m6 0h1m2 0h1m3 0h2m6 0h1M440 334.5h1m3 0h1m5 0h2m2 0h2m3 0h1m7 0h1m5 0h3m2 0h1M435 335.5h1m12 0h1m2 0h2m4 0h1m1 0h2m5 0h3m1 0h1m2 0h2m4 0h1M436 336.5h1m5 0h1m2 0h1m9 0h1m7 0h1m2 0h1m5 0h2m3 0h1m2 0h1M447 337.5h1m2 0h1m1 0h1m3 0h1m1 0h1m2 0h1m2 0h2m1 0h1m1 0h1M451 338.5h1m4 0h1m4 0h1m6 0h1m3 0h1M453 339.5h2m2 0h1m5 0h1M448 340.5h1m13 0h1m2 0h1m3 0h1M474 341.5h1m1 0h1M470 343.5h1M424 360.5h1M418 361.5h1m8 0h1m3 0h1M428 362.5h2m4 0h1m48 0h1m3 0h1M422 363.5h2m5 0h1m26 0h1m1 0h1m6 0h1m2 0h1m13 0h1M412 364.5h1m8 0h1m1 0h2m1 0h1m8 0h2m10 0h1m6 0h1m10 0h1m7 0h2m8 0h1m3 0h1M412 365.5h1m3 0h1m1 0h2m2 0h1m2 0h1m6 0h1m6 0h1m30 0h1m2 0h1m1 0h1m1 0h1m4 0h2m5 0h1M418 366.5h3m3 0h2m1 0h2m1 0h2m5 0h2m1 0h2m10 0h1m2 0h1m3 0h1m1 0h2m2 0h1m1 0h1m4 0h2m1 0h2m4 0h1m11 0h1M409 367.5h1m1 0h1m1 0h1m3 0h3m3 0h1m1 0h1m2 0h1m1 0h1m3 0h1m1 0h1m15 0h1m6 0h1m3 0h3m6 0h2m1 0h1m1 0h1m8 0h1m3 0h1m2 0h1m3 0h1M408 368.5h1m5 0h2m2 0h2m1 0h2m8 0h5m6 0h1m5 0h2m5 0h1m4 0h5m1 0h1m4 0h4m2 0h5m9 0h1M414 369.5h3m1 0h1m1 0h1m1 0h2m6 0h1m1 0h1m2 0h1m5 0h1m1 0h1m2 0h1m5 0h1m1 0h1m1 0h1m1 0h3m3 0h1m6 0h1m3 0h1m4 0h1m4 0h2m4 0h1m1 0h1M410 370.5h3m3 0h1m1 0h1m2 0h2m1 0h1m1 0h1m1 0h1m3 0h1m2 0h1m9 0h2m4 0h2m6 0h1m1 0h1m2 0h5m1 0h2m1 0h3m4 0h1m4 0h3m1 0h1m3 0h1m2 0h1M411 371.5h1m1 0h1m2 0h1m2 0h2m3 0h1m4 0h1m2 0h1m4 0h2m1 0h1m12 0h3m5 0h2m1 0h1m1 0h2m4 0h3m5 0h1m1 0h5m5 0h1M411 372.5h3m6 0h1m2 0h2m8 0h1m4 0h1m5 0h1m4 0h3m2 0h1m6 0h1m3 0h2m7 0h2m3 0h4m1 0h1m2 0h2M409 373.5h1m1 0h1m3 0h2m2 0h2m2 0h2m1 0h1m1 0h2m2 0h3m2 0h1m1 0h1m1 0h1m3 0h1m1 0h1m3 0h1m3 0h1m2 0h1m1 0h2m1 0h1m1 0h1m1 0h1m6 0h1m1 0h1m2 0h3m6 0h1m2 0h1m1 0h1M409 374.5h1m5 0h4m1 0h1m4 0h1m4 0h3m1 0h4m1 0h1m4 0h2m1 0h1m6 0h2m3 0h2m2 0h4m3 0h1m2 0h1m1 0h1m1 0h1m3 0h2m2 0h5m5 0h1M407 375.5h1m4 0h2m6 0h1m6 0h1m7 0h1m4 0h1m5 0h2m1 0h1m4 0h1m2 0h1m4 0h1m3 0h1m2 0h1m2 0h2m3 0h3m3 0h1m1 0h1M408 376.5h1m1 0h1m1 0h1m2 0h3m2 0h3m2 0h1m2 0h1m4 0h2m1 0h1m1 0h2m1 0h1m2 0h4m1 0h2m1 0h2m4 0h2m1 0h1m1 0h1m1 0h1m8 0h1m3 0h2m4 0h2m1 0h1m1 0h1m5 0h1M413 377.5h2m4 0h4m15 0h3m1 0h3m2 0h1m1 0h1m3 0h1m4 0h1m1 0h1m1 0h2m3 0h1m9 0h1m2 0h1m1 0h3m2 0h1m1 0h1m2 0h1m1 0h1M410 378.5h1m3 0h4m4 0h1m3 0h1m1 0h1m1 0h1m3 0h2m1 0h1m2 0h2m1 0h1m4 0h1m7 0h2m1 0h2m8 0h1m8 0h3m6 0h1m8 0h1M409 379.5h1m1 0h2m1 0h2m3 0h1m1 0h1m5 0h2m6 0h1m3 0h2m1 0h1m3 0h2m10 0h2m2 0h2m1 0h1m1 0h1m2 0h1m1 0h2m2 0h1m1 0h3m1 0h1m2 0h1m5 0h1M413 380.5h1m1 0h1m4 0h1m1 0h2m1 0h1m8 0h5m2 0h1m3 0h1m3 0h1m1 0h1m1 0h1m2 0h1m3 0h1m1 0h1m3 0h2m4 0h1m2 0h1m2 0h3m3 0h4m2 0h4M412 381.5h2m1 0h1m8 0h3m4 0h1m1 0h1m3 0h1m1 0h3m1 0h1m8 0h1m1 0h1m1 0h1m10 0h1m6 0h5m4 0h1m1 0h1M412 382.5h2m3 0h1m7 0h1m1 0h2m5 0h1m2 0h2m6 0h1m1 0h3m6 0h1m2 0h1m2 0h1m1 0h1m7 0h2m1 0h1m2 0h1m1 0h2m6 0h1m5 0h1m1 0h1M413 383.5h1m2 0h5m1 0h2m1 0h1m2 0h1m3 0h1m2 0h2m4 0h1m3 0h1m10 0h1m3 0h5m2 0h1m2 0h1m2 0h2m1 0h2m1 0h2m5 0h1m2 0h1m2 0h1M413 384.5h3m1 0h2m1 0h1m4 0h2m1 0h2m3 0h2m7 0h1m4 0h1m4 0h1m2 0h2m2 0h1m4 0h1m1 0h1m4 0h1m1 0h1m4 0h1m3 0h1m2 0h3m3 0h1M417 385.5h1m1 0h1m1 0h1m1 0h1m1 0h1m1 0h3m1 0h1m1 0h2m13 0h3m8 0h2m3 0h1m2 0h1m6 0h1m3 0h1M417 386.5h1m5 0h2m6 0h1m2 0h2m3 0h1m10 0h2m2 0h1m9 0h2m1 0h1m1 0h1m2 0h1m2 0h1m1 0h1m11 0h1M417 387.5h1m6 0h1m2 0h1m3 0h2m2 0h2m1 0h1m1 0h1m1 0h1m3 0h2m6 0h1m10 0h1m1 0h1m1 0h1m4 0h1m1 0h1m7 0h1m4 0h1M417 388.5h1m4 0h1m3 0h1m1 0h1m1 0h1m22 0h1m3 0h1m2 0h1m2 0h1m2 0h1m4 0h1m3 0h1m5 0h1M418 389.5h1m2 0h2m3 0h1m5 0h1m1 0h1m13 0h1m1 0h1m2 0h1m2 0h1m7 0h1m11 0h1M424 390.5h1m2 0h1m2 0h1m1 0h1m1 0h1m2 0h1m2 0h1m5 0h2m6 0h2m1 0h1m5 0h1m18 0h1m1 0h1m1 0h1M416 391.5h1m2 0h2m9 0h1m24 0h1m4 0h1m9 0h1M453 392.5h1m15 0h1M448 394.5h1m8 0h1M454 395.5h1m10 0h1M426 396.5h1m35 0h1M457 397.5h1m6 0h1" stroke="#474747"/>
<path d="M464 331.5h1M457 332.5h1m3 0h1M445 334.5h1m16 0h1M463 335.5h1M452 336.5h1m22 0h1M457 337.5h1M445 338.5h1m17 0h1m1 0h1m14 0h1M467 339.5h1M422 362.5h1m10 0h1M418 363.5h1m7 0h1M427 364.5h1M420 365.5h1m3 0h1m3 0h2m18 0h1m8 0h1m14 0h1m1 0h1m3 0h1M417 366.5h1m14 0h1m1 0h1m29 0h1M412 367.5h1m1 0h1m5 0h2m2 0h1m2 0h1m1 0h1m3 0h1m35 0h1m12 0h1m2 0h1m3 0h1m1 0h1m6 0h1M417 368.5h1m5 0h8m5 0h2m7 0h1m7 0h1m2 0h1m1 0h1m29 0h1m3 0h1M421 369.5h1m2 0h6m1 0h1m1 0h1m2 0h3m8 0h1m1 0h1m11 0h1m1 0h1m9 0h1m3 0h2m4 0h1M409 370.5h1m4 0h1m2 0h1m1 0h2m2 0h1m1 0h1m1 0h1m2 0h2m1 0h2m1 0h2m3 0h1m13 0h1m7 0h1m5 0h1m7 0h2m3 0h2m6 0h1M414 371.5h2m1 0h2m2 0h3m1 0h4m1 0h2m1 0h4m4 0h1m1 0h1m1 0h1m2 0h1m8 0h1m11 0h1m5 0h1m2 0h2m8 0h2M414 372.5h1m1 0h4m1 0h2m2 0h8m1 0h4m17 0h1m6 0h1m4 0h2m2 0h1m5 0h1m8 0h1m2 0h1M412 373.5h3m2 0h2m2 0h2m2 0h1m4 0h2m3 0h2m1 0h1m4 0h2m5 0h1m2 0h2m1 0h2m4 0h1m6 0h1m3 0h1m9 0h1m1 0h2M411 374.5h3m5 0h1m1 0h4m1 0h4m3 0h1m6 0h1m10 0h1m1 0h1m17 0h2m7 0h1m10 0h1M414 375.5h6m1 0h6m1 0h7m2 0h1m1 0h1m3 0h1m9 0h1m4 0h1m1 0h2m1 0h1m4 0h1m1 0h2m2 0h1m5 0h1m15 0h1M414 376.5h1m3 0h2m4 0h1m2 0h1m1 0h1m1 0h2m2 0h1m26 0h1m4 0h5m3 0h1m10 0h1M412 377.5h1m2 0h1m1 0h2m4 0h11m1 0h3m10 0h1m5 0h3m4 0h1m14 0h1M412 378.5h2m4 0h4m1 0h3m1 0h1m1 0h1m1 0h3m2 0h1m2 0h1m9 0h1m3 0h2m8 0h2m1 0h2m4 0h1m2 0h1m1 0h1m4 0h1m2 0h2m1 0h2m1 0h1M416 379.5h3m1 0h1m1 0h5m2 0h6m1 0h1m11 0h1m6 0h1m8 0h1m1 0h1m14 0h1M412 380.5h1m3 0h4m1 0h1m2 0h1m1 0h6m1 0h1m5 0h1m7 0h1m6 0h1m2 0h1m1 0h1m1 0h1m2 0h1m5 0h1m2 0h1M411 381.5h1m4 0h8m3 0h4m1 0h1m1 0h3m1 0h1m3 0h1m8 0h1m1 0h1m5 0h2m2 0h1m2 0h1m12 0h1m7 0h1m2 0h1M414 382.5h1m1 0h1m1 0h1m1 0h3m1 0h1m1 0h1m3 0h2m7 0h1m15 0h1m4 0h1m5 0h1m1 0h1m5 0h1m11 0h1m2 0h1M415 383.5h1m5 0h1m2 0h1m1 0h2m1 0h2m2 0h1m4 0h2m3 0h1m4 0h1m23 0h1M419 384.5h1m7 0h1m2 0h3m3 0h1m2 0h1m18 0h1m16 0h1m7 0h1M420 385.5h1m1 0h1m1 0h1m1 0h1m3 0h1m9 0h1m1 0h1m14 0h1m4 0h1m8 0h1M418 386.5h2m1 0h2m6 0h1m2 0h1m7 0h1m17 0h1m1 0h1m7 0h1m1 0h1M421 387.5h1M424 388.5h2m3 0h1m31 0h1M461 390.5h1m18 0h1M458 392.5h1m21 0h1" stroke="#0a0a0a"/>
<path d="M340 405.5h1M330 408.5h1M333 410.5h1M388 411.5h1M340 412.5h1m12 0h1M314 413.5h1m9 0h1m64 0h1M322 414.5h1m1 0h1m6 0h1M322 415.5h1m4 0h1m3 0h1m9 0h1m4 0h1m20 0h1M344 416.5h1m2 0h1m24 0h1M304 417.5h1m36 0h1m2 0h1m1 0h1m1 0h1m5 0h1m3 0h1m7 0h2M300 418.5h1m9 0h1m4 0h1m12 0h2m4 0h1m1 0h1m1 0h2m4 0h7m1 0h1m1 0h1m1 0h2m4 0h1m1 0h1m1 0h2m5 0h1m7 0h1M319 419.5h1m1 0h1m1 0h1m3 0h1m1 0h1m5 0h2m2 0h2m2 0h1m1 0h1m8 0h1m3 0h2m1 0h1m3 0h1m1 0h1m2 0h1m1 0h1m6 0h1m4 0h1M295 420.5h1m9 0h1m8 0h3m1 0h2m1 0h1m3 0h3m1 0h2m3 0h1m1 0h1m1 0h3m2 0h1m1 0h5m2 0h1m4 0h1m4 0h1m3 0h2m1 0h1m1 0h1m1 0h2m2 0h1m9 0h1M306 421.5h2m1 0h1m1 0h1m1 0h5m1 0h1m1 0h1m2 0h2m1 0h1m5 0h2m3 0h2m2 0h1m6 0h1m6 0h1m3 0h1m2 0h4m3 0h2m1 0h1m2 0h1m5 0h2M287 422.5h1m8 0h1m14 0h1m1 0h1m6 0h2m1 0h1m1 0h5m2 0h2m3 0h2m5 0h1m4 0h1m10 0h1m2 0h1m3 0h1m1 0h2m1 0h1m2 0h2m3 0h1m5 0h1M306 423.5h1m4 0h3m3 0h1m2 0h2m1 0h2m1 0h1m1 0h1m2 0h1m28 0h1m4 0h1m1 0h1m3 0h1m4 0h3m1 0h1m3 0h1m5 0h1M294 424.5h1m2 0h1m1 0h2m2 0h1m1 0h2m3 0h2m4 0h1m4 0h1m1 0h1m3 0h1m2 0h1m6 0h2m32 0h1m2 0h1m5 0h1m2 0h2M292 425.5h1m7 0h1m1 0h1m6 0h2m1 0h1m1 0h2m3 0h1m7 0h1m28 0h1m11 0h1m4 0h1m3 0h1m4 0h1m1 0h1m1 0h1M294 426.5h1m3 0h1m4 0h1m3 0h1m3 0h1m4 0h1m1 0h3m10 0h1m39 0h4m3 0h2m3 0h1m7 0h1M301 427.5h1m2 0h4m2 0h1m2 0h1m1 0h1m3 0h1m1 0h1m1 0h1m4 0h1m3 0h1m33 0h1m7 0h2m2 0h3m11 0h1M297 428.5h3m1 0h1m1 0h2m4 0h1m3 0h2m5 0h1m1 0h3m2 0h1m3 0h1m33 0h1m2 0h1m4 0h1m1 0h5m3 0h1m1 0h1M305 429.5h1m1 0h2m7 0h2m4 0h4m5 0h1m36 0h1m2 0h2m7 0h1m1 0h1m4 0h1m2 0h1M284 430.5h1m7 0h1m5 0h1m5 0h1m3 0h1m5 0h2m2 0h1m2 0h1m11 0h1m28 0h1m3 0h1m3 0h1m3 0h2m3 0h1m2 0h1m4 0h1m3 0h1M301 431.5h1m6 0h1m2 0h1m7 0h2m3 0h1m1 0h1m1 0h2m1 0h1m1 0h1m4 0h1m5 0h1m11 0h1m2 0h1m3 0h1m2 0h1m1 0h1m2 0h2m11 0h3M293 432.5h1m18 0h1m10 0h1m3 0h3m2 0h2m6 0h1m1 0h1m4 0h1m5 0h1m2 0h2m3 0h1m1 0h1m1 0h1m8 0h1m7 0h1M296 433.5h1m30 0h1m7 0h1m1 0h1m3 0h3m2 0h2m2 0h1m3 0h2m1 0h2m1 0h1m7 0h1m6 0h2m8 0h1m4 0h1M311 434.5h1m2 0h1m15 0h6m1 0h3m2 0h1m16 0h1m2 0h2m1 0h1m4 0h1m2 0h1m11 0h1M321 435.5h1m14 0h2m13 0h2m5 0h1m1 0h1m6 0h1m1 0h1m2 0h1m1 0h2M311 436.5h1m10 0h1m4 0h1m11 0h1m2 0h1m4 0h2m13 0h1m17 0h1M320 437.5h1m21 0h1m2 0h1m1 0h1m5 0h1m3 0h1m5 0h1m11 0h1m11 0h1M315 438.5h1m18 0h1m23 0h1m4 0h1M319 439.5h1m20 0h1m33 0h1M319 441.5h1m1 0h1m35 0h1M350 443.5h1m3 0h1M315 444.5h2M368 446.5h1M386 447.5h1M361 448.5h1M361 449.5h1m1 0h1m2 0h1m4 0h2m14 0h1M364 450.5h1m2 0h1m3 0h1m3 0h1m3 0h2m2 0h1M317 451.5h1m9 0h1m14 0h1m10 0h1m10 0h1m3 0h1m1 0h1m8 0h1m9 0h1m1 0h1M335 452.5h1m1 0h1m2 0h1m1 0h2m2 0h1m3 0h2m1 0h1m2 0h1m1 0h1m1 0h1m2 0h1m1 0h1m8 0h3m4 0h3M299 453.5h1m24 0h1m4 0h2m1 0h1m3 0h1m2 0h1m2 0h2m4 0h2m3 0h1m1 0h2m2 0h3m1 0h1m4 0h1m2 0h2m2 0h1m3 0h1m1 0h2m4 0h1M299 454.5h1m13 0h1m3 0h1m2 0h1m4 0h1m1 0h1m1 0h1m3 0h1m1 0h2m2 0h1m2 0h1m2 0h2m1 0h1m1 0h1m6 0h2m5 0h2m3 0h1m2 0h1m6 0h3m5 0h1m4 0h1M300 455.5h1m3 0h3m2 0h2m4 0h1m2 0h1m1 0h1m9 0h3m1 0h3m1 0h1m3 0h2m3 0h2m11 0h1m5 0h1m4 0h1m7 0h1m1 0h2m1 0h2m5 0h2M289 456.5h1m3 0h1m7 0h1m1 0h3m6 0h4m13 0h1m4 0h1m1 0h1m1 0h1m2 0h2m3 0h1m1 0h2m2 0h1m2 0h1m4 0h1m18 0h1m3 0h2m1 0h1m3 0h1m1 0h1M296 457.5h1m1 0h1m3 0h1m1 0h3m2 0h2m3 0h1m1 0h3m3 0h3m1 0h3m3 0h1m3 0h1m7 0h2m30 0h1m6 0h2m1 0h1m3 0h1M289 458.5h4m1 0h2m5 0h3m1 0h3m4 0h1m3 0h1m15 0h2m1 0h1m2 0h1m3 0h1m42 0h1m3 0h1M288 459.5h1m1 0h1m1 0h1m1 0h1m1 0h2m1 0h2m1 0h1m3 0h1m2 0h1m2 0h1m3 0h1m11 0h2m6 0h2m3 0h1m2 0h1m20 0h1m7 0h1m2 0h1m3 0h2m1 0h1m3 0h2M284 460.5h2m1 0h1m11 0h1m7 0h1m5 0h1m11 0h2m52 0h1m2 0h1m5 0h1M286 461.5h1m1 0h2m1 0h4m1 0h1m1 0h1m1 0h1m21 0h1m5 0h1m20 0h1m7 0h1m23 0h2m2 0h1m2 0h2m1 0h1M281 462.5h1m1 0h1m3 0h2m1 0h2m5 0h1m86 0h3m4 0h1M279 463.5h1m3 0h1m3 0h2m1 0h1m2 0h1m5 0h1m31 0h1m52 0h2m2 0h1m2 0h2M282 464.5h1m2 0h1m6 0h2m4 0h1m83 0h1m3 0h1M281 465.5h1m4 0h1m1 0h4m89 0h1m1 0h1m7 0h1M279 466.5h1m3 0h1m1 0h1m5 0h1m91 0h1m6 0h1M281 467.5h1m2 0h2m1 0h1m2 0h1m93 0h2m1 0h1m3 0h1M285 468.5h2m94 0h2m3 0h2m2 0h1M283 469.5h3m44 0h1m49 0h1m2 0h2m2 0h2m2 0h1M279 470.5h3m1 0h2m97 0h1m1 0h2m2 0h1M283 471.5h1m1 0h3m91 0h1m2 0h2m1 0h1m1 0h1M283 472.5h3m96 0h1m4 0h4M280 473.5h1m3 0h2m1 0h1m40 0h1m51 0h1m6 0h3m2 0h1M280 474.5h2m2 0h4m1 0h1m92 0h3m2 0h4M279 475.5h1m2 0h1m2 0h3m2 0h1m58 0h1m32 0h2m1 0h1M279 476.5h2m3 0h1m3 0h1m44 0h1m2 0h1m21 0h1m17 0h1m1 0h1m5 0h2m2 0h1m1 0h1M279 477.5h2m2 0h1m51 0h1m36 0h1m1 0h1m3 0h1m6 0h1m3 0h2M284 478.5h2m1 0h3m37 0h1m38 0h1m9 0h2m1 0h3m1 0h2m1 0h1m4 0h1M282 479.5h2m1 0h3m3 0h1m35 0h1m15 0h1m7 0h1m13 0h1m3 0h1m9 0h1m6 0h1m1 0h1m2 0h1M285 480.5h1m1 0h1m1 0h1m1 0h2m49 0h1m6 0h1m1 0h1m4 0h1m11 0h1m1 0h1m1 0h1m1 0h2m2 0h3m1 0h1m5 0h1M283 481.5h1m3 0h1m3 0h1m14 0h1m21 0h1m10 0h1m4 0h1m1 0h1m3 0h1m1 0h1m9 0h1m3 0h1m4 0h2m2 0h1m1 0h2m1 0h2m1 0h1M284 482.5h4m4 0h1m1 0h1m3 0h1m20 0h1m14 0h2m3 0h1m8 0h1m3 0h1m3 0h1m2 0h1m5 0h3m4 0h1m1 0h2m1 0h1m2 0h2m1 0h1m7 0h1M284 483.5h1m1 0h1m1 0h1m2 0h1m8 0h1m19 0h1m12 0h1m4 0h1m6 0h1m3 0h1m9 0h1m1 0h2m6 0h1m1 0h1m1 0h1m1 0h1m4 0h1m2 0h1m6 0h1M281 484.5h1m1 0h1m2 0h1m3 0h1m1 0h1m11 0h1m15 0h1m4 0h1m2 0h1m3 0h2m3 0h1m2 0h1m2 0h1m7 0h1m1 0h2m4 0h1m1 0h1m5 0h3m3 0h1m5 0h1m5 0h1M287 485.5h3m1 0h1m1 0h2m4 0h2m2 0h1m2 0h1m18 0h2m3 0h3m10 0h1m2 0h1m1 0h2m3 0h2m1 0h1m2 0h3m1 0h1m1 0h4m3 0h1m2 0h1m1 0h1m2 0h1m1 0h1M280 486.5h1m4 0h1m2 0h2m2 0h1m2 0h1m2 0h1m3 0h1m4 0h1m2 0h2m3 0h1m2 0h1m2 0h1m3 0h1m6 0h1m4 0h3m3 0h1m2 0h2m4 0h3m2 0h2m1 0h1m1 0h1m1 0h1m1 0h4m1 0h1m1 0h1m6 0h1m3 0h1m4 0h1M283 487.5h1m8 0h4m2 0h1m2 0h3m2 0h1m1 0h1m6 0h1m7 0h2m1 0h3m3 0h2m1 0h1m3 0h3m4 0h3m1 0h2m4 0h1m3 0h1m4 0h1m1 0h1m2 0h1m1 0h1m7 0h1m3 0h1m2 0h1M282 488.5h1m3 0h1m7 0h2m1 0h3m1 0h1m1 0h1m2 0h1m4 0h1m6 0h1m2 0h1m4 0h1m2 0h3m2 0h3m1 0h2m2 0h1m3 0h1m1 0h2m1 0h1m4 0h1m3 0h1m3 0h2m3 0h1m5 0h2m4 0h1M292 489.5h1m2 0h3m5 0h1m1 0h1m1 0h1m5 0h3m7 0h1m1 0h1m1 0h1m1 0h1m4 0h1m4 0h1m4 0h1m2 0h3m1 0h3m1 0h1m3 0h1m2 0h1m2 0h1m1 0h5m5 0h1m1 0h1m1 0h1" stroke="#c2c2c2"/>
<path d="M332 417.5h1m10 0h1M327 418.5h1M326 419.5h1m10 0h1m6 0h1m5 0h2m16 0h1M331 420.5h1m9 0h2m1 0h1m8 0h1m4 0h2m3 0h2M330 421.5h1m6 0h1m3 0h1m1 0h1m1 0h4m1 0h2m2 0h1m4 0h1m1 0h2m4 0h2m8 0h1M312 422.5h1m1 0h1m9 0h1m5 0h1m5 0h1m2 0h1m3 0h1m4 0h1m4 0h1m4 0h2m4 0h1m1 0h1m1 0h1m2 0h1M309 423.5h1m8 0h1m6 0h1m1 0h1m5 0h1m1 0h1m1 0h1m5 0h1m2 0h1m2 0h1m1 0h1m4 0h2m8 0h1m3 0h1m1 0h1m1 0h2M318 424.5h3m8 0h1m1 0h5m25 0h1m4 0h1m2 0h1m5 0h1M304 425.5h1m6 0h1m5 0h2m2 0h1m2 0h2m3 0h1m1 0h1m1 0h1m35 0h4m1 0h1M305 426.5h1m2 0h2m2 0h1m1 0h1m2 0h1m6 0h1m1 0h1m10 0h1m2 0h1m19 0h1m2 0h1m3 0h3m5 0h1M309 427.5h1m2 0h1m4 0h1m2 0h1m4 0h2m4 0h1m26 0h1m4 0h3m3 0h1m2 0h1m3 0h1m8 0h1m3 0h1M312 428.5h1m4 0h1m1 0h1m1 0h1m4 0h1m1 0h1m5 0h1m22 0h2m2 0h1m4 0h2m1 0h3m2 0h1M306 429.5h1m8 0h1m5 0h1m4 0h3m1 0h1m3 0h1m3 0h3m14 0h1m1 0h1m7 0h3m1 0h2m6 0h2M310 430.5h1m8 0h1m3 0h4m1 0h2m2 0h1m1 0h2m1 0h1m5 0h2m1 0h2m6 0h1m2 0h1m3 0h1m1 0h1m5 0h1M314 431.5h1m8 0h1m3 0h1m2 0h1m1 0h1m1 0h2m1 0h1m3 0h1m4 0h4m3 0h1m4 0h1m2 0h1m3 0h1m1 0h1m1 0h1M316 432.5h1m3 0h1m13 0h2m1 0h1m1 0h1m1 0h1m2 0h3m5 0h1m1 0h2m2 0h2m4 0h1m2 0h2M331 433.5h2m3 0h1m3 0h1m4 0h1m5 0h2m3 0h1m6 0h1m3 0h1m6 0h1M336 434.5h1m4 0h1m7 0h1m5 0h2M330 435.5h1m4 0h1m9 0h1m7 0h1M337 436.5h1m22 0h1M363 451.5h1m9 0h1M361 452.5h1m2 0h1m13 0h1M344 453.5h1m5 0h2m5 0h1m6 0h2m3 0h2m5 0h1m1 0h1M334 454.5h1m14 0h1m3 0h1m8 0h2m2 0h3m1 0h2m3 0h2m1 0h1m3 0h2M322 455.5h1m2 0h1m2 0h2m3 0h1m5 0h1m1 0h1m3 0h2m2 0h2m2 0h5m1 0h1m2 0h1m1 0h2m4 0h1m1 0h1m4 0h2m1 0h1m2 0h1M317 456.5h1m6 0h1m1 0h2m3 0h3m1 0h1m4 0h1m2 0h1m6 0h1m7 0h1m3 0h1m6 0h1m7 0h2m10 0h1M307 457.5h1m5 0h1m16 0h1m3 0h2m2 0h1m2 0h3m2 0h1m5 0h1m1 0h1m1 0h1m4 0h1m2 0h1m2 0h1m1 0h1m4 0h2m2 0h2m2 0h1M299 458.5h1m4 0h1m3 0h4m2 0h1m2 0h2m1 0h2m1 0h1m1 0h1m1 0h2m2 0h1m9 0h1m8 0h2m2 0h1m17 0h4m1 0h2m1 0h2M301 459.5h1m1 0h1m1 0h1m7 0h1m1 0h1m6 0h1m1 0h2m1 0h1m3 0h1m2 0h2m2 0h2m5 0h1m3 0h1m6 0h1m18 0h1m2 0h2m2 0h1M293 460.5h2m5 0h1m2 0h2m1 0h1m3 0h3m1 0h1m2 0h1m1 0h1m1 0h1m5 0h1m1 0h1m1 0h3m5 0h1m35 0h1m4 0h2m4 0h1M297 461.5h1m1 0h1m1 0h1m1 0h1m3 0h1m9 0h2m1 0h1m3 0h1m5 0h1m6 0h1m1 0h3m35 0h4m2 0h2m2 0h1M292 462.5h2m1 0h2m6 0h1m2 0h1m6 0h1m9 0h1m3 0h1m7 0h2m2 0h1m28 0h1m13 0h2M291 463.5h2m2 0h1m1 0h1m5 0h1m2 0h1m6 0h1m2 0h1m3 0h1m2 0h1m2 0h1m3 0h1m2 0h2m30 0h1m10 0h1m3 0h1m6 0h1M287 464.5h1m1 0h1m1 0h1m7 0h1m1 0h1m22 0h1m3 0h1m4 0h1m20 0h1m13 0h1m7 0h1m4 0h1m1 0h1m6 0h1M285 465.5h1m1 0h1m60 0h1m8 0h1m22 0h1m1 0h1m1 0h2M286 466.5h1m1 0h3m4 0h1m12 0h1m15 0h1m11 0h1m4 0h1m37 0h1m1 0h1m2 0h1m4 0h1M288 467.5h1m2 0h1m46 0h2m5 0h2m1 0h1m27 0h1m3 0h2m1 0h1M283 468.5h1m3 0h1m1 0h1m2 0h1m19 0h1m22 0h1m40 0h1m3 0h1m4 0h1M282 469.5h1m3 0h1m4 0h1m34 0h2m5 0h1m2 0h1m9 0h1m26 0h3m1 0h1m4 0h1m2 0h1M282 470.5h1m3 0h1m5 0h3m28 0h1m3 0h1m2 0h1m4 0h1m2 0h1m11 0h1m3 0h1m10 0h1m20 0h1m3 0h1M281 471.5h1m2 0h1m5 0h1m1 0h1m45 0h1m4 0h1m28 0h3m2 0h1m6 0h1M287 472.5h1m1 0h1m1 0h2m10 0h1m16 0h1m18 0h1m1 0h1m15 0h1m11 0h1m6 0h2m7 0h1m5 0h1M283 473.5h1m2 0h1m7 0h1m1 0h1m36 0h1m7 0h1m11 0h1m25 0h1m1 0h6m4 0h1M288 474.5h1m1 0h2m33 0h1m3 0h1m1 0h1m3 0h1m4 0h1m3 0h1m12 0h1m8 0h1m9 0h3m1 0h2m3 0h2M288 475.5h2m9 0h1m2 0h1m25 0h1m12 0h1m22 0h1m4 0h2m1 0h1m1 0h1m2 0h1m1 0h1m1 0h1m6 0h1M285 476.5h3m5 0h1m40 0h1m6 0h1m1 0h1m7 0h1m13 0h2m4 0h1m2 0h2m3 0h3M284 477.5h1m1 0h5m1 0h1m34 0h1m6 0h1m1 0h1m2 0h1m7 0h1m2 0h1m3 0h1m2 0h1m1 0h1m1 0h1m2 0h1m4 0h1m5 0h1m1 0h1m1 0h3M286 478.5h1m5 0h1m1 0h2m30 0h1m1 0h1m6 0h1m9 0h2m4 0h1m7 0h1m11 0h1m1 0h3m2 0h1m3 0h1m5 0h1M289 479.5h1m7 0h1m3 0h1m14 0h1m1 0h1m17 0h5m8 0h1m2 0h1m1 0h2m8 0h1m5 0h1m3 0h2m1 0h1m2 0h1m1 0h2M288 480.5h1m5 0h1m1 0h1m4 0h1m2 0h1m4 0h1m2 0h1m8 0h1m9 0h3m2 0h1m1 0h3m11 0h1m1 0h1m2 0h2m1 0h1m4 0h2m2 0h1m3 0h1m3 0h1m6 0h1M290 481.5h1m1 0h2m5 0h1m21 0h1m1 0h1m7 0h2m4 0h1m2 0h1m1 0h1m11 0h5m4 0h1m1 0h1m1 0h3m6 0h1m2 0h1m5 0h1M288 482.5h1m1 0h1m2 0h1m1 0h2m8 0h1m2 0h1m9 0h1m5 0h1m2 0h1m1 0h2m1 0h1m5 0h1m1 0h1m1 0h4m12 0h1m2 0h1m11 0h1m4 0h1M287 483.5h1m1 0h2m3 0h2m2 0h1m5 0h2m2 0h1m4 0h1m5 0h1m1 0h1m2 0h1m1 0h1m1 0h2m2 0h1m2 0h1m1 0h1m1 0h1m1 0h3m3 0h1m4 0h1m4 0h2m4 0h1m1 0h4m5 0h1m4 0h1M288 484.5h2m1 0h1m1 0h3m3 0h1m1 0h1m9 0h1m1 0h1m5 0h1m4 0h1m2 0h1m3 0h1m2 0h1m1 0h1m1 0h1m7 0h1m1 0h3m4 0h1m4 0h1m1 0h5m4 0h1m2 0h3m1 0h1m3 0h2M290 485.5h1m4 0h3m4 0h1m1 0h2m1 0h1m1 0h2m1 0h1m1 0h1m5 0h1m3 0h1m2 0h3m4 0h1m3 0h1m1 0h1m1 0h1m9 0h1m4 0h2m3 0h1m1 0h1m4 0h1m4 0h1m3 0h1M290 486.5h1m5 0h2m1 0h1m5 0h2m2 0h1m2 0h1m1 0h1m4 0h1m2 0h3m1 0h3m1 0h2m1 0h1m2 0h1m5 0h1m1 0h1m4 0h1m5 0h2m2 0h1m10 0h1m1 0h1M289 487.5h1m6 0h1m2 0h1m9 0h1m3 0h1m5 0h2m9 0h1m3 0h1m1 0h2m7 0h1m7 0h1m3 0h2m3 0h2m9 0h2M288 488.5h1m2 0h1m8 0h1m4 0h1m2 0h3m1 0h3m2 0h1m7 0h1m2 0h1m4 0h1m3 0h1m2 0h2m2 0h1m7 0h1m6 0h1m1 0h1m6 0h1m3 0h1M298 489.5h3m1 0h1m6 0h2m8 0h3m2 0h1m6 0h1m3 0h1m2 0h1m3 0h1m7 0h1m7 0h1m4 0h2m10 0h1" stroke="#848484"/>
<path d="M349 419.5h1M337 420.5h1m16 0h1M328 421.5h1m6 0h1m8 0h1m10 0h1m1 0h2M331 422.5h1m8 0h2m3 0h3m2 0h2m2 0h4m3 0h2m2 0h1M322 423.5h1m6 0h2m1 0h1m3 0h1m1 0h1m1 0h3m5 0h1m4 0h2m4 0h1m1 0h3m4 0h2M312 424.5h1m1 0h2m8 0h1m1 0h1m1 0h1m7 0h1m2 0h1m2 0h1m6 0h1m1 0h1m1 0h1m5 0h2m1 0h3m2 0h1m9 0h1M322 425.5h1m3 0h1m3 0h1m3 0h2m1 0h2m1 0h1m3 0h2m1 0h1m1 0h1m3 0h1m3 0h1m2 0h1m2 0h4M313 426.5h1m1 0h1m5 0h1m1 0h1m3 0h2m1 0h1m1 0h2m1 0h2m7 0h1m1 0h4m1 0h2m3 0h2m6 0h3M318 427.5h1m3 0h1m4 0h1m1 0h2m2 0h2m1 0h3m5 0h1m1 0h2m3 0h1m2 0h2m1 0h1m1 0h2m7 0h1m2 0h1m5 0h1M329 428.5h2m1 0h2m5 0h2m1 0h1m1 0h1m4 0h1m5 0h2m2 0h1m3 0h1m8 0h1M332 429.5h2m2 0h2m4 0h2m2 0h1m1 0h2m1 0h1m2 0h1m1 0h1m3 0h1m1 0h1m1 0h1M320 430.5h1m15 0h1m8 0h1m3 0h1m2 0h2m4 0h3m3 0h2m7 0h1M336 431.5h1m2 0h1m2 0h2m6 0h3m4 0h1m2 0h1m1 0h1m1 0h1M331 432.5h1m4 0h1m1 0h1m4 0h1m4 0h2m1 0h1m8 0h1M349 433.5h1m12 0h1M346 434.5h1M369 451.5h1M354 453.5h1m7 0h1m10 0h1M355 454.5h2m3 0h1M352 455.5h1m5 0h1m2 0h1m1 0h1m3 0h2m6 0h1M328 456.5h1m10 0h1m4 0h2m1 0h1m3 0h1m1 0h1m5 0h1m1 0h1m1 0h3m1 0h2m2 0h1m2 0h3m4 0h2M319 457.5h1m1 0h1m9 0h1m5 0h1m1 0h2m6 0h3m1 0h1m3 0h1m2 0h1m1 0h1m1 0h2m4 0h1m3 0h2m7 0h1M315 458.5h1m6 0h1m3 0h1m3 0h1m3 0h1m1 0h2m2 0h1m2 0h6m3 0h2m1 0h2m5 0h2m3 0h2m1 0h2m10 0h1m1 0h1M307 459.5h2m1 0h2m6 0h4m1 0h1m2 0h1m5 0h2m6 0h1m1 0h2m2 0h1m4 0h2m2 0h1m2 0h1m2 0h4m3 0h2m2 0h1m4 0h1m6 0h2M298 460.5h1m2 0h1m3 0h1m9 0h2m1 0h1m4 0h2m3 0h1m5 0h5m1 0h3m1 0h4m3 0h5m1 0h1m1 0h1m2 0h1m1 0h1m1 0h1m3 0h2m1 0h2m1 0h1m1 0h1m4 0h1M302 461.5h1m1 0h3m6 0h1m2 0h1m2 0h1m1 0h1m1 0h1m1 0h2m2 0h1m1 0h5m7 0h2m1 0h3m1 0h1m3 0h3m2 0h1m3 0h2m1 0h1m3 0h1m1 0h3m1 0h1M294 462.5h1m3 0h1m1 0h2m7 0h3m3 0h1m5 0h2m1 0h3m3 0h4m6 0h3m2 0h1m4 0h1m4 0h1m6 0h1m4 0h1m2 0h1m1 0h2m1 0h4m1 0h2M294 463.5h1m3 0h1m1 0h2m6 0h2m1 0h1m2 0h1m3 0h1m6 0h1m2 0h1m8 0h2m2 0h1m2 0h1m12 0h1m2 0h3m1 0h1m2 0h2m3 0h1m1 0h2m2 0h2m3 0h1m2 0h1M288 464.5h1m1 0h1m6 0h1m4 0h1m3 0h2m1 0h1m1 0h1m2 0h1m1 0h1m4 0h1m1 0h1m2 0h1m3 0h1m5 0h4m1 0h1m1 0h2m2 0h2m1 0h1m2 0h1m2 0h1m3 0h1m1 0h1m6 0h2m1 0h2m3 0h1m2 0h1m3 0h1M293 465.5h1m3 0h5m2 0h1m6 0h1m1 0h1m1 0h1m7 0h1m1 0h1m1 0h1m2 0h1m2 0h1m2 0h1m2 0h2m1 0h4m16 0h1m11 0h1m4 0h1m9 0h1M287 466.5h1m4 0h2m3 0h2m1 0h1m5 0h1m2 0h1m10 0h2m6 0h1m5 0h2m1 0h1m2 0h1m5 0h3m10 0h1m1 0h2m4 0h2m2 0h1m2 0h5m1 0h1m1 0h1m2 0h1m1 0h1M289 467.5h1m4 0h1m1 0h1m18 0h1m6 0h1m2 0h2m3 0h1m2 0h2m2 0h1m2 0h1m1 0h2m3 0h1m2 0h1m1 0h1m3 0h2m7 0h1m2 0h1m1 0h1m3 0h1m2 0h1m4 0h1M288 468.5h1m1 0h2m1 0h1m3 0h1m1 0h1m10 0h1m15 0h1m1 0h2m1 0h3m2 0h2m8 0h1m7 0h1m4 0h1m1 0h2m3 0h2m2 0h1m6 0h1m1 0h1m3 0h1M287 469.5h4m3 0h1m5 0h1m9 0h1m6 0h2m9 0h1m3 0h1m4 0h1m5 0h1m4 0h1m13 0h1m4 0h1m11 0h1m1 0h1m4 0h1M289 470.5h2m4 0h1m1 0h1m1 0h1m1 0h2m6 0h1m3 0h1m7 0h1m2 0h1m3 0h1m5 0h1m4 0h1m6 0h1m1 0h1m2 0h2m2 0h1m3 0h1m9 0h1m3 0h1m1 0h2m1 0h1m1 0h2m1 0h1M288 471.5h2m7 0h1m1 0h3m1 0h2m4 0h1m3 0h1m3 0h1m2 0h1m5 0h1m7 0h1m4 0h2m8 0h2m1 0h1m4 0h1m3 0h2m2 0h1m2 0h4m3 0h1m5 0h1M288 472.5h1m1 0h1m2 0h1m4 0h1m3 0h1m2 0h1m3 0h1m2 0h2m7 0h1m2 0h1m1 0h3m1 0h5m1 0h2m6 0h1m1 0h6m2 0h1m1 0h1m2 0h1m1 0h2m3 0h1m4 0h3m1 0h1m2 0h1m1 0h2m1 0h1M288 473.5h5m4 0h1m3 0h2m7 0h1m11 0h1m3 0h2m1 0h1m4 0h3m1 0h1m3 0h1m3 0h4m1 0h1m7 0h1m1 0h1m6 0h2m7 0h1M293 474.5h1m1 0h3m2 0h1m6 0h1m4 0h1m5 0h1m1 0h1m6 0h2m5 0h1m1 0h2m3 0h3m1 0h1m1 0h3m3 0h2m7 0h1m1 0h1m3 0h2m1 0h1m3 0h1m3 0h1M291 475.5h1m4 0h2m2 0h2m1 0h1m2 0h1m8 0h1m6 0h1m1 0h1m6 0h6m3 0h1m1 0h3m1 0h1m3 0h1m1 0h2m1 0h1m1 0h1m1 0h1m3 0h1m1 0h4m2 0h1m3 0h2m1 0h1M289 476.5h4m22 0h1m2 0h1m4 0h1m3 0h3m5 0h1m1 0h1m1 0h2m1 0h1m1 0h1m1 0h3m3 0h1m2 0h2m3 0h1m3 0h1m2 0h2m4 0h1m3 0h1m4 0h1M291 477.5h1m1 0h4m5 0h2m1 0h4m3 0h1m9 0h2m4 0h1m1 0h1m2 0h1m3 0h2m1 0h1m1 0h3m3 0h1m2 0h2m2 0h2m1 0h1m3 0h2m1 0h2m1 0h1m7 0h1M290 478.5h2m1 0h1m2 0h1m5 0h1m5 0h1m6 0h1m14 0h1m1 0h1m4 0h6m1 0h1m4 0h1m2 0h3m2 0h1m3 0h3m5 0h1m2 0h1M284 479.5h1m5 0h1m1 0h3m5 0h1m4 0h1m3 0h3m5 0h1m6 0h1m1 0h1m1 0h2m1 0h5m5 0h2m1 0h1m1 0h3m1 0h1m2 0h1m2 0h1m1 0h2m2 0h2m4 0h1m2 0h3m2 0h1m8 0h1M290 480.5h1m2 0h1m1 0h1m1 0h2m8 0h1m2 0h1m2 0h1m1 0h1m3 0h2m1 0h1m1 0h1m1 0h1m1 0h1m8 0h1m3 0h1m2 0h5m1 0h1m2 0h1m5 0h1m1 0h1m1 0h2m2 0h1m8 0h1M294 481.5h3m1 0h1m2 0h1m1 0h1m3 0h1m3 0h1m3 0h1m1 0h1m1 0h1m2 0h1m2 0h1m1 0h1m6 0h3m1 0h1m2 0h1m6 0h2m1 0h1m1 0h1m5 0h3m2 0h1m5 0h1m2 0h2M289 482.5h1m1 0h1m5 0h1m3 0h3m2 0h2m3 0h1m2 0h3m3 0h4m2 0h1m1 0h1m7 0h1m4 0h1m4 0h2m1 0h3m1 0h3m1 0h1m2 0h1m1 0h3m3 0h1M292 483.5h1m3 0h2m8 0h2m1 0h2m1 0h1m1 0h4m4 0h2m1 0h1m1 0h1m3 0h1m2 0h1m1 0h1m3 0h1m5 0h1m4 0h1m1 0h4m7 0h1M287 484.5h1m9 0h2m4 0h1m1 0h5m4 0h4m3 0h3m5 0h2m4 0h1m3 0h1m4 0h2m6 0h1m4 0h1M298 485.5h1m2 0h1m6 0h1m2 0h1m1 0h1m1 0h2m1 0h2m1 0h3m9 0h1m1 0h3m1 0h1m1 0h1m2 0h2m1 0h1m3 0h1m3 0h1M301 486.5h1m1 0h2m3 0h1m4 0h1m2 0h2m2 0h1m8 0h1m15 0h1m15 0h1M310 487.5h3m1 0h1m1 0h3m2 0h2m6 0h1m8 0h1m5 0h1m24 0h1M304 488.5h1m14 0h1m3 0h2m2 0h1m15 0h1m14 0h1M304 489.5h1m1 0h1m1 0h1m3 0h1m3 0h2m15 0h1m6 0h1m5 0h1m13 0h1" stroke="#474747"/>
<path d="M331 421.5h1m20 0h2M335 422.5h1m6 0h1m9 0h1M334 423.5h1m4 0h1m4 0h2m1 0h1m2 0h1m1 0h1m2 0h1m2 0h1m5 0h1M340 424.5h2m1 0h6m1 0h1m1 0h1m1 0h5m6 0h1m2 0h1M328 425.5h1m3 0h1m3 0h1m2 0h1m1 0h3m2 0h1m1 0h1m1 0h3m1 0h2m2 0h2m1 0h2m4 0h1M322 426.5h1m6 0h1m4 0h1m3 0h2m1 0h3m1 0h1m4 0h1m2 0h3m2 0h2m1 0h2M316 427.5h1m18 0h1m3 0h5m1 0h1m2 0h3m1 0h2m2 0h1m4 0h2m4 0h1m2 0h1M335 428.5h4m2 0h1m1 0h1m1 0h4m1 0h5m5 0h1m1 0h1m1 0h1M329 429.5h1m5 0h1m5 0h1m2 0h2m1 0h1m2 0h1m1 0h2m4 0h2m1 0h1m1 0h1M330 430.5h1m7 0h5m5 0h1m1 0h2m3 0h2M340 431.5h1m4 0h1m8 0h2m14 0h1M350 432.5h1M344 433.5h1M359 454.5h1m1 0h1m12 0h1M376 455.5h1M354 456.5h1m1 0h2m8 0h1m3 0h1m1 0h2M315 457.5h1m34 0h1m2 0h1m3 0h1m1 0h1m5 0h2m3 0h2m5 0h1M339 458.5h1m9 0h1m7 0h5m2 0h3m2 0h1m9 0h1M314 459.5h1m2 0h1m29 0h2m1 0h1m2 0h2m2 0h1m1 0h2m5 0h2m2 0h2m2 0h1M302 460.5h1m5 0h2m10 0h1m1 0h1m7 0h1m12 0h1m4 0h3m5 0h1m1 0h1m1 0h2m1 0h1m1 0h1m1 0h3m2 0h1m4 0h1m7 0h1M308 461.5h5m1 0h2m11 0h1m8 0h1m1 0h1m3 0h1m2 0h1m5 0h3m4 0h1m1 0h3m2 0h1m1 0h3m1 0h1m3 0h1M299 462.5h1m2 0h1m1 0h2m1 0h2m3 0h1m1 0h1m1 0h5m7 0h2m4 0h1m2 0h2m4 0h2m1 0h4m1 0h4m1 0h6m1 0h4m2 0h1m1 0h1m2 0h1M296 463.5h1m5 0h1m1 0h2m1 0h1m2 0h1m1 0h1m2 0h1m1 0h1m1 0h1m1 0h2m1 0h1m2 0h1m1 0h1m2 0h1m2 0h2m2 0h2m1 0h2m1 0h12m1 0h2m3 0h1m2 0h1m2 0h3m1 0h1m3 0h1m3 0h1M294 464.5h3m3 0h1m2 0h3m2 0h1m1 0h1m1 0h2m1 0h1m1 0h4m1 0h1m2 0h1m1 0h1m1 0h1m1 0h2m1 0h2m4 0h1m1 0h1m2 0h2m2 0h1m1 0h2m2 0h1m1 0h3m1 0h1m1 0h5m3 0h1m2 0h2m2 0h2M292 465.5h1m1 0h3m5 0h2m1 0h6m1 0h1m1 0h1m1 0h7m1 0h1m1 0h1m1 0h2m1 0h2m1 0h2m1 0h2m2 0h1m4 0h2m1 0h8m1 0h4m1 0h11m1 0h4m11 0h1M294 466.5h1m1 0h1m2 0h1m1 0h5m1 0h1m2 0h10m2 0h2m1 0h3m1 0h5m4 0h2m2 0h4m3 0h10m1 0h1m2 0h4m2 0h2m1 0h2M292 467.5h2m1 0h1m1 0h18m1 0h6m1 0h2m2 0h3m1 0h2m2 0h2m4 0h1m2 0h1m4 0h1m1 0h1m1 0h3m2 0h7m1 0h2m1 0h1m1 0h3m1 0h1m2 0h2M294 468.5h3m1 0h1m1 0h10m1 0h1m1 0h13m1 0h1m2 0h1m3 0h1m3 0h8m1 0h7m1 0h4m1 0h1m2 0h3m2 0h2m1 0h5m2 0h1M292 469.5h2m1 0h5m1 0h9m1 0h6m2 0h7m3 0h1m1 0h1m2 0h2m2 0h5m1 0h2m1 0h1m1 0h13m1 0h4m1 0h5m3 0h1m1 0h1M291 470.5h1m4 0h1m1 0h1m1 0h1m2 0h6m1 0h3m1 0h7m1 0h1m2 0h2m2 0h1m1 0h3m2 0h2m2 0h6m1 0h1m1 0h1m3 0h1m2 0h3m1 0h5m1 0h3m1 0h3m1 0h1m2 0h1M291 471.5h1m1 0h4m1 0h1m3 0h1m2 0h4m1 0h3m1 0h3m1 0h2m1 0h5m1 0h7m1 0h3m3 0h2m1 0h5m2 0h1m1 0h4m1 0h3m2 0h2m1 0h2m8 0h1m1 0h1m1 0h1M294 472.5h4m1 0h3m2 0h1m1 0h3m1 0h2m2 0h6m2 0h2m1 0h1m3 0h1m5 0h1m2 0h1m1 0h1m1 0h2m1 0h1m6 0h2m1 0h1m2 0h1m1 0h1m2 0h3m1 0h2m1 0h1m3 0h1m4 0h1M293 473.5h1m1 0h1m2 0h3m2 0h7m1 0h11m1 0h3m4 0h3m4 0h1m1 0h2m2 0h3m4 0h1m1 0h1m1 0h5m1 0h1m1 0h6m2 0h7m1 0h1M292 474.5h1m1 0h1m3 0h2m1 0h6m1 0h4m1 0h5m1 0h1m1 0h4m1 0h1m3 0h1m1 0h2m4 0h2m6 0h1m3 0h3m2 0h2m1 0h4m1 0h1m1 0h1m1 0h1m2 0h1m1 0h3M292 475.5h4m2 0h1m5 0h2m1 0h8m1 0h6m1 0h1m1 0h3m1 0h2m6 0h3m5 0h1m1 0h2m2 0h1m2 0h1m1 0h1m1 0h1m1 0h3m10 0h1M294 476.5h21m1 0h2m1 0h4m1 0h3m3 0h3m5 0h1m6 0h1m3 0h2m2 0h2m2 0h1m1 0h1m1 0h3m5 0h2m1 0h1M297 477.5h5m2 0h1m4 0h3m1 0h9m2 0h3m2 0h1m1 0h2m8 0h1m3 0h2m2 0h1m3 0h1m6 0h1m6 0h1m2 0h2m1 0h1m8 0h1M297 478.5h5m1 0h5m1 0h6m1 0h10m3 0h1m1 0h1m1 0h2m1 0h1m6 0h1m3 0h2m1 0h1m4 0h2m1 0h1m1 0h1m3 0h2m1 0h2m1 0h1M295 479.5h2m1 0h2m2 0h3m1 0h3m3 0h4m3 0h5m1 0h1m4 0h1m14 0h1m14 0h2m4 0h2M299 480.5h2m1 0h2m1 0h2m1 0h1m2 0h1m2 0h1m1 0h3m4 0h1m1 0h1m1 0h1m1 0h1m4 0h2m19 0h1m6 0h1M297 481.5h1m2 0h1m1 0h1m1 0h2m2 0h3m1 0h3m1 0h1m1 0h1m1 0h1m3 0h1m1 0h1m2 0h2m2 0h1m9 0h1m1 0h1m1 0h1M299 482.5h2m3 0h1m4 0h2m1 0h2m3 0h1m7 0h1m5 0h1m1 0h1m3 0h1M299 483.5h1m2 0h2m7 0h1m6 0h1m11 0h1m19 0h1m9 0h1M296 484.5h1m3 0h1m1 0h1m7 0h1m1 0h1m5 0h1m22 0h2m15 0h1M300 486.5h1m33 0h1m13 0h1M304 487.5h1m2 0h1m17 0h1m17 0h1M315 488.5h1" stroke="#0a0a0a"/>
<path d="M438 409.5h1m2 0h1m3 0h1M400 410.5h1m71 0h1M490 411.5h1M419 412.5h1m54 0h1m8 0h1m6 0h1M465 413.5h1m21 0h1M444 414.5h1m17 0h1m5 0h1m7 0h1M429 415.5h1m20 0h1m7 0h1m1 0h2m4 0h2m1 0h1m18 0h1M423 416.5h1m2 0h1m15 0h1m6 0h1m1 0h1m9 0h2m9 0h1m8 0h1m7 0h1m1 0h1m2 0h1M454 417.5h1m2 0h1m1 0h1m5 0h2m1 0h1m5 0h1m3 0h1m2 0h1m9 0h1m2 0h1m4 0h1m3 0h1M428 418.5h1m1 0h2m9 0h1m4 0h1m3 0h1m1 0h1m2 0h1m2 0h1m3 0h3m3 0h1m2 0h4m4 0h3m6 0h1m5 0h1m2 0h1M439 419.5h2m1 0h1m1 0h1m3 0h3m10 0h1m6 0h1m3 0h1m1 0h1m7 0h2m1 0h1m4 0h1m1 0h1m2 0h1m3 0h1M429 420.5h1m2 0h1m3 0h1m1 0h1m1 0h2m3 0h4m1 0h1m1 0h3m2 0h1m16 0h1m1 0h1m5 0h2m1 0h1m1 0h2m6 0h1m4 0h1M431 421.5h1m7 0h2m1 0h1m3 0h3m3 0h1m24 0h1m2 0h1m2 0h1m4 0h3m1 0h1m2 0h1m1 0h3m6 0h1M416 422.5h1m3 0h2m4 0h2m5 0h2m1 0h1m2 0h3m3 0h3m1 0h2m3 0h1m4 0h1m18 0h1m9 0h2m6 0h2m10 0h1M419 423.5h1m8 0h2m2 0h3m1 0h2m2 0h1m2 0h2m1 0h1m44 0h1m1 0h3m2 0h2M421 424.5h1m1 0h4m2 0h8m9 0h1m5 0h1m39 0h1m4 0h1m2 0h1m2 0h1m1 0h1m3 0h1M401 425.5h1m22 0h1m2 0h1m1 0h1m1 0h1m1 0h2m2 0h1m1 0h1m3 0h1m42 0h1m5 0h3m2 0h2m2 0h1m1 0h2M423 426.5h1m3 0h1m1 0h1m3 0h3m2 0h1m7 0h1m4 0h1m41 0h2m3 0h1m1 0h3m3 0h1M425 427.5h1m2 0h1m2 0h3m3 0h2m1 0h1m1 0h2m8 0h1m43 0h1m1 0h5m5 0h2M412 428.5h1m6 0h1m4 0h1m7 0h3m5 0h1m1 0h2m1 0h1m2 0h1m43 0h1m1 0h3m2 0h1m5 0h2M425 429.5h1m8 0h1m2 0h2m5 0h1m46 0h1m2 0h1m14 0h1M423 430.5h1m5 0h1m1 0h2m4 0h1m4 0h1m1 0h2m2 0h1m1 0h1m1 0h1m33 0h1m2 0h1m2 0h1m1 0h2m1 0h1m1 0h1m3 0h1m2 0h1M417 431.5h1m8 0h1m7 0h2m1 0h2m1 0h3m3 0h2m3 0h1m2 0h1m29 0h1m8 0h1m3 0h1m6 0h1M429 432.5h1m2 0h1m3 0h1m1 0h1m1 0h1m2 0h2m9 0h2m24 0h1m5 0h2m3 0h1m1 0h2m5 0h1m7 0h2M423 433.5h1m4 0h1m10 0h1m4 0h1m1 0h2m1 0h2m4 0h1m1 0h1m1 0h1m3 0h2m3 0h1m2 0h2m1 0h1m1 0h2m4 0h1m2 0h1m4 0h1m6 0h1m1 0h1m1 0h1M414 434.5h1m12 0h1m10 0h2m6 0h1m1 0h1m4 0h1m4 0h1m1 0h1m5 0h1m2 0h1m2 0h2m4 0h2m6 0h2m4 0h1M424 435.5h1m4 0h1m10 0h2m2 0h1m9 0h1m1 0h1m4 0h2m1 0h1m1 0h3m1 0h1m2 0h1m1 0h3m1 0h1m2 0h1m1 0h4m10 0h1M434 436.5h1m6 0h1m2 0h2m6 0h1m3 0h1m1 0h2m7 0h3m3 0h1m4 0h1m5 0h2m6 0h1m3 0h1m7 0h1M427 437.5h1m2 0h1m5 0h1m8 0h1m13 0h1m15 0h1m2 0h1m5 0h1m1 0h1m12 0h1M443 438.5h1m2 0h1m4 0h1m1 0h1m16 0h2m7 0h1M462 439.5h1m1 0h1m12 0h1m19 0h1M462 440.5h1m9 0h1m10 0h1M434 441.5h1m12 0h1m4 0h1m8 0h1M424 442.5h1m44 0h1m18 0h1M442 443.5h1M449 444.5h1M463 445.5h1M474 446.5h1m15 0h1M418 447.5h1m46 0h1m21 0h1M406 448.5h1m40 0h1m3 0h1m13 0h1m3 0h1m8 0h1m3 0h1M444 449.5h1m12 0h1m12 0h1m5 0h1m16 0h1m5 0h1m2 0h1m1 0h1M421 450.5h1m27 0h1m5 0h1m17 0h1m13 0h1m1 0h2m11 0h1m3 0h1M458 451.5h1m3 0h1m26 0h2m1 0h1m3 0h3m2 0h1m1 0h1M447 452.5h1m7 0h1m1 0h1m4 0h1m1 0h1m5 0h2m1 0h4m3 0h1m2 0h2m1 0h2m5 0h4m4 0h1m1 0h1m2 0h1m2 0h1M403 453.5h1m19 0h1m27 0h1m1 0h1m2 0h1m4 0h1m1 0h2m4 0h1m1 0h1m6 0h2m4 0h2m2 0h1m1 0h4m3 0h1m1 0h2m2 0h1m1 0h2m1 0h1M416 454.5h1m24 0h1m8 0h1m1 0h1m1 0h1m1 0h1m1 0h2m1 0h1m1 0h1m2 0h2m10 0h1m4 0h2m1 0h1m1 0h1m3 0h1m1 0h1m2 0h2m8 0h2M401 455.5h1m17 0h2m1 0h1m8 0h4m5 0h1m11 0h1m2 0h2m2 0h3m2 0h1m1 0h1m10 0h1m9 0h1m1 0h1m1 0h1m7 0h1m4 0h3m1 0h1M404 456.5h1m13 0h2m1 0h1m1 0h2m6 0h1m4 0h4m1 0h1m1 0h1m1 0h1m3 0h5m1 0h1m4 0h1m12 0h1m2 0h1m14 0h1m7 0h3m1 0h1m1 0h1m1 0h1m1 0h1M404 457.5h1m3 0h1m1 0h2m4 0h1m1 0h2m3 0h5m1 0h2m1 0h5m2 0h1m1 0h2m6 0h1m4 0h1m16 0h1m1 0h1m17 0h1m4 0h1m1 0h2m2 0h2m3 0h2M406 458.5h2m1 0h1m1 0h3m1 0h1m1 0h1m1 0h1m2 0h2m2 0h1m2 0h1m1 0h2m1 0h1m1 0h1m2 0h1m2 0h3m1 0h1m2 0h2m2 0h1m4 0h2m41 0h3m1 0h4m1 0h1M401 459.5h1m1 0h1m8 0h1m7 0h1m3 0h1m7 0h1m6 0h1m2 0h1m6 0h1m54 0h1m4 0h1M399 460.5h2m1 0h1m5 0h1m1 0h3m3 0h1m11 0h1m8 0h1m1 0h1m16 0h1m48 0h2m3 0h1M400 461.5h4m1 0h1m2 0h1m3 0h1m3 0h1m21 0h1m63 0h2m2 0h3M397 462.5h5m1 0h1m1 0h1m2 0h1m1 0h1m24 0h1m13 0h1m51 0h1M401 463.5h1m2 0h3m3 0h1m1 0h1m35 0h1m56 0h1m2 0h1m1 0h1M403 464.5h1m1 0h1m96 0h1m3 0h1m1 0h1M399 465.5h2m1 0h1m3 0h1m2 0h1m46 0h1m41 0h1m8 0h1M398 466.5h2m1 0h1m30 0h1m72 0h1m1 0h1m1 0h1M400 467.5h1m1 0h2m2 0h1m94 0h1m2 0h1m3 0h1M398 468.5h2m99 0h1m1 0h1m3 0h3m1 0h1M397 469.5h1m11 0h1m36 0h1m56 0h3m2 0h1M397 470.5h4m105 0h1m1 0h1m1 0h1M401 471.5h1m51 0h1m48 0h2m4 0h1m1 0h1M397 472.5h1m101 0h1m1 0h1m3 0h3m2 0h1M399 473.5h2m6 0h1m92 0h2m2 0h1m1 0h2m2 0h1M404 474.5h1m85 0h1m2 0h1m5 0h2m7 0h2M397 475.5h1m8 0h1m41 0h2m4 0h1m38 0h1m3 0h1m1 0h3m3 0h2m2 0h1M397 476.5h1m5 0h1m2 0h1m50 0h1m34 0h1m4 0h1m2 0h1m1 0h1m4 0h1M398 477.5h2m1 0h2m71 0h1m11 0h1m9 0h2m8 0h1m2 0h1M401 478.5h1m9 0h1m48 0h1m19 0h1m2 0h1m18 0h1M398 479.5h2m43 0h1m25 0h1m16 0h1m2 0h1m2 0h1m1 0h1m1 0h2m2 0h3m1 0h3m1 0h1m1 0h1M398 480.5h2m3 0h2m74 0h1m1 0h1m5 0h3m3 0h1m1 0h2m2 0h4M397 481.5h1m2 0h1m2 0h1m3 0h1m10 0h1m17 0h1m4 0h1m12 0h1m6 0h2m2 0h3m2 0h1m5 0h3m2 0h1m1 0h1m4 0h1m1 0h6m2 0h1m1 0h1m9 0h1M398 482.5h1m2 0h2m2 0h1m13 0h1m30 0h1m2 0h1m6 0h1m6 0h1m9 0h1m4 0h2m1 0h2m1 0h1m1 0h1m1 0h2m1 0h1m3 0h2m1 0h1M398 483.5h1m2 0h2m2 0h2m3 0h1m4 0h1m7 0h1m11 0h1m2 0h1m1 0h1m10 0h1m1 0h1m1 0h1m5 0h2m2 0h1m3 0h1m1 0h2m1 0h1m1 0h1m3 0h1m6 0h1m2 0h1m1 0h1m2 0h1m1 0h3M400 484.5h1m7 0h1m1 0h1m6 0h1m15 0h1m8 0h1m6 0h1m1 0h2m2 0h1m9 0h1m9 0h1m5 0h1m2 0h1m7 0h1m1 0h1m1 0h1m2 0h1m1 0h1M398 485.5h1m4 0h2m1 0h1m1 0h3m1 0h1m25 0h1m3 0h3m3 0h1m5 0h1m7 0h1m2 0h1m6 0h1m1 0h1m1 0h2m2 0h1m1 0h1m3 0h1m2 0h2m2 0h2m3 0h2m4 0h1m2 0h1M403 486.5h1m2 0h1m2 0h1m1 0h1m7 0h1m1 0h1m1 0h1m1 0h1m1 0h1m4 0h1m2 0h1m5 0h3m3 0h2m1 0h1m2 0h1m3 0h3m1 0h2m1 0h1m1 0h1m1 0h1m1 0h1m2 0h1m4 0h1m1 0h1m3 0h2m6 0h1m5 0h1m2 0h1m4 0h1m3 0h1M399 487.5h3m3 0h1m1 0h1m1 0h2m4 0h2m5 0h1m1 0h1m2 0h1m1 0h1m3 0h1m7 0h1m7 0h3m4 0h2m1 0h1m1 0h6m1 0h1m1 0h1m3 0h1m5 0h1m4 0h1m2 0h2m6 0h2m2 0h1m2 0h1M398 488.5h1m5 0h1m5 0h1m2 0h1m1 0h2m1 0h2m1 0h1m4 0h2m2 0h1m7 0h2m2 0h1m1 0h2m4 0h1m7 0h2m1 0h2m1 0h1m1 0h1m2 0h3m3 0h1m1 0h1m6 0h1m2 0h1m1 0h2m1 0h1m5 0h1M397 489.5h1m3 0h2m4 0h4m1 0h1m1 0h1m3 0h1m9 0h1m5 0h1m1 0h1m1 0h1m1 0h2m3 0h2m6 0h1m1 0h2m1 0h1m2 0h1m4 0h1m1 0h1m2 0h2m7 0h1m5 0h2m2 0h2m1 0h1m2 0h1" stroke="#c2c2c2"/>
<path d="M465 416.5h1M452 417.5h1m14 0h1m5 0h1m3 0h1M453 418.5h1m3 0h1m1 0h1m6 0h2m19 0h1M453 419.5h2m3 0h2m2 0h1m4 0h1m1 0h3m4 0h1m2 0h2m3 0h1M451 420.5h1m6 0h1m1 0h1m3 0h4m1 0h1m7 0h1m6 0h1m1 0h1m2 0h1m4 0h1M427 421.5h1m6 0h1m1 0h1m4 0h1m2 0h2m4 0h1m2 0h1m3 0h1m7 0h1m1 0h1m5 0h1m1 0h2m4 0h1m2 0h1m2 0h1m3 0h1m1 0h1m6 0h1M431 422.5h1m10 0h1m1 0h1m6 0h2m3 0h1m5 0h2m2 0h1m6 0h1m13 0h1m5 0h1m6 0h1M439 423.5h1m1 0h2m2 0h1m2 0h1m3 0h1m11 0h1m18 0h1m4 0h1m1 0h1m1 0h1m4 0h1m3 0h1M438 424.5h3m1 0h1m1 0h2m1 0h3m8 0h1m32 0h1m10 0h1M430 425.5h1m4 0h2m3 0h3m1 0h1m1 0h2m1 0h1m2 0h1m3 0h1m3 0h1m38 0h2m9 0h1M432 426.5h1m3 0h2m1 0h2m1 0h2m8 0h1m37 0h2m3 0h1M439 427.5h1m4 0h1m3 0h1m1 0h2m36 0h1m2 0h1m5 0h1M421 428.5h1m13 0h1m1 0h3m41 0h1m9 0h1m1 0h1m4 0h1m2 0h1M422 429.5h1m5 0h3m8 0h1m3 0h1m1 0h1m4 0h2m13 0h1m11 0h1m11 0h1m6 0h1m2 0h1m3 0h1M428 430.5h1m6 0h1m4 0h1m6 0h1m1 0h1m1 0h1m1 0h1m5 0h1m15 0h1m14 0h1m7 0h1m6 0h1M431 431.5h1m13 0h1m2 0h2m2 0h2m2 0h1m3 0h1m3 0h1m3 0h1m16 0h1m3 0h3M441 432.5h1m4 0h1m1 0h1m1 0h2m6 0h1m1 0h2m12 0h1m4 0h1m2 0h3m4 0h2m1 0h1m6 0h1M432 433.5h1m3 0h1m5 0h1m8 0h1m1 0h1m4 0h1m6 0h2m2 0h2m2 0h1m1 0h1m8 0h1m2 0h2M450 434.5h1m3 0h1m1 0h1m2 0h1m1 0h2m2 0h1m2 0h1m1 0h2m2 0h1m10 0h1M449 435.5h1m3 0h1m3 0h1m7 0h1m3 0h1m8 0h1m2 0h1m11 0h1M471 436.5h1m5 0h1M478 438.5h1M468 450.5h1m28 0h1M488 451.5h1m16 0h1M479 452.5h1m9 0h2m1 0h1m4 0h1m7 0h1m2 0h1M466 453.5h1m1 0h1m1 0h1m1 0h2m1 0h1m10 0h2m1 0h1m12 0h1m1 0h1M464 454.5h1m4 0h1m1 0h1m1 0h3m3 0h2m1 0h1m4 0h1m1 0h1m1 0h1m1 0h1m1 0h1m6 0h1M446 455.5h1m2 0h1m1 0h1m1 0h1m3 0h1m5 0h1m1 0h1m2 0h2m3 0h2m1 0h1m2 0h1m6 0h1m3 0h1m5 0h2m2 0h3M434 456.5h1m11 0h1m10 0h2m2 0h2m4 0h3m4 0h1m4 0h1m3 0h2m1 0h1m1 0h1m8 0h1m4 0h1M438 457.5h1m1 0h1m2 0h1m1 0h2m1 0h1m1 0h1m1 0h2m3 0h3m3 0h1m1 0h2m2 0h1m2 0h1m19 0h1m1 0h1m2 0h1m6 0h1m1 0h1M408 458.5h1m21 0h1m2 0h1m4 0h1m2 0h1m5 0h2m3 0h1m2 0h2m3 0h1m1 0h1m6 0h1m8 0h1m9 0h1m3 0h1m7 0h1M416 459.5h3m4 0h1m1 0h2m3 0h1m2 0h1m1 0h1m1 0h1m3 0h1m3 0h2m11 0h3m18 0h1m4 0h1m11 0h1m1 0h1m1 0h1m1 0h2m2 0h1m1 0h1M407 460.5h1m1 0h1m3 0h2m2 0h1m3 0h4m5 0h1m1 0h1m5 0h1m1 0h1m2 0h1m2 0h1m1 0h1m8 0h2m15 0h1m13 0h1m6 0h2m3 0h3M406 461.5h2m2 0h2m2 0h2m4 0h3m14 0h1m5 0h1m1 0h2m2 0h2m37 0h2m7 0h1m1 0h1m4 0h2M402 462.5h1m3 0h1m2 0h1m2 0h1m37 0h1m4 0h1m26 0h1m9 0h1m9 0h6M397 463.5h1m2 0h1m10 0h1m2 0h2m8 0h2m8 0h1m3 0h1m6 0h1m4 0h1m13 0h1m33 0h1m1 0h1m1 0h1M401 464.5h1m2 0h1m2 0h2m3 0h1m34 0h2m2 0h1m8 0h2m36 0h1m1 0h1m6 0h1M403 465.5h1m1 0h1m1 0h2m1 0h1m2 0h1m26 0h1m1 0h1m18 0h1m29 0h1m10 0h1m2 0h2m2 0h1M402 466.5h1m1 0h2m1 0h1m4 0h1m20 0h1m14 0h1m10 0h1m28 0h1m4 0h1m3 0h1m4 0h2m4 0h1M399 467.5h1m5 0h1m7 0h1m28 0h1m39 0h1m6 0h1m7 0h1m1 0h2m1 0h1m3 0h1M400 468.5h2m1 0h3m91 0h1m5 0h2M398 469.5h1m5 0h2m1 0h2m2 0h1m24 0h1m14 0h1m33 0h1m14 0h1m9 0h1M401 470.5h1m3 0h1m44 0h1m1 0h1m37 0h2m6 0h2m5 0h1M399 471.5h1m2 0h1m39 0h1m12 0h1m4 0h1m33 0h1m5 0h1m4 0h1M398 472.5h1m1 0h5m2 0h1m34 0h1m1 0h1m5 0h1m3 0h1m9 0h1m19 0h1m11 0h3m3 0h1M398 473.5h1m2 0h1m1 0h1m1 0h1m3 0h1m7 0h1m3 0h1m14 0h1m17 0h1m1 0h1m7 0h1m2 0h1m1 0h1m5 0h1m9 0h1m3 0h1m5 0h1m6 0h1M400 474.5h1m4 0h1m2 0h1m38 0h2m2 0h1m7 0h1m5 0h1m8 0h1m12 0h1m4 0h1m2 0h3M400 475.5h1m45 0h1m4 0h1m14 0h1m3 0h1m12 0h2m2 0h1m2 0h1m1 0h1m2 0h1m2 0h1m5 0h1m2 0h1M398 476.5h1m2 0h1m5 0h1m15 0h1m26 0h1m3 0h1m10 0h1m5 0h1m1 0h1m2 0h1m4 0h1m1 0h3m1 0h1m1 0h1m1 0h1m1 0h1m4 0h2m1 0h1M403 477.5h1m2 0h1m1 0h1m36 0h1m4 0h1m1 0h1m1 0h1m1 0h1m11 0h1m3 0h1m9 0h1m4 0h2m1 0h3m5 0h2m1 0h1m5 0h1M398 478.5h1m3 0h1m1 0h1m37 0h3m1 0h2m2 0h1m2 0h1m4 0h1m2 0h1m3 0h5m8 0h1m2 0h1m3 0h1m2 0h5m1 0h1m1 0h1m2 0h1m1 0h1m1 0h2M401 479.5h2m1 0h1m15 0h1m31 0h2m2 0h1m6 0h2m1 0h1m5 0h1m4 0h2m5 0h2m1 0h2m1 0h1m4 0h1m2 0h2M402 480.5h1m8 0h2m20 0h1m4 0h4m3 0h1m2 0h1m1 0h1m1 0h1m1 0h1m4 0h2m2 0h1m1 0h3m1 0h1m2 0h1m4 0h2m1 0h1m4 0h2m3 0h3m4 0h1m5 0h1M398 481.5h1m3 0h1m2 0h2m1 0h1m2 0h3m2 0h1m7 0h1m7 0h1m5 0h1m4 0h1m6 0h3m4 0h2m4 0h2m3 0h2m5 0h1m4 0h1m4 0h3m1 0h1m6 0h1M409 482.5h1m1 0h2m10 0h2m4 0h1m4 0h3m5 0h1m1 0h1m2 0h1m1 0h1m4 0h1m1 0h1m1 0h2m4 0h1m3 0h2m1 0h1m1 0h1m4 0h1m1 0h1m6 0h1m3 0h1m5 0h1m5 0h1M403 483.5h2m4 0h1m3 0h1m16 0h2m7 0h1m2 0h3m3 0h1m8 0h1m2 0h1m3 0h1m1 0h1m1 0h1m4 0h1m1 0h1m2 0h1m3 0h5m1 0h1M404 484.5h1m1 0h1m4 0h1m2 0h3m6 0h1m1 0h2m1 0h1m1 0h1m5 0h1m3 0h2m2 0h1m11 0h1m1 0h3m1 0h1m1 0h1m3 0h1m2 0h1m2 0h1m2 0h3m2 0h2m1 0h1m2 0h1m1 0h1m7 0h1M401 485.5h2m4 0h1m6 0h2m4 0h2m3 0h4m5 0h3m3 0h1m5 0h1m2 0h2m4 0h1m1 0h1m1 0h1m3 0h1m3 0h1m1 0h1m1 0h1m3 0h1m2 0h2m1 0h1m3 0h1M397 486.5h1m4 0h1m1 0h2m1 0h2m1 0h1m4 0h2m3 0h1m8 0h3m1 0h1m3 0h1m2 0h1m3 0h1m1 0h1m2 0h1m5 0h1m4 0h1m4 0h1m3 0h1m1 0h1m3 0h1M403 487.5h1m2 0h1m5 0h2m4 0h1m1 0h2m3 0h2m1 0h1m3 0h1m1 0h1m1 0h1m1 0h2m2 0h2m1 0h4m3 0h1m2 0h1m13 0h1m1 0h1m21 0h1M408 488.5h2m1 0h2m7 0h1m3 0h1m3 0h2m2 0h2m2 0h2m3 0h1m6 0h2m10 0h1m11 0h2m6 0h1m4 0h1M400 489.5h1m10 0h1m1 0h1m1 0h1m1 0h1m1 0h1m4 0h1m2 0h1m1 0h2m4 0h1m8 0h1m2 0h1m2 0h1m1 0h1m1 0h1m15 0h1m6 0h1" stroke="#848484"/>
<path d="M479 417.5h1M454 418.5h1m10 0h1M456 419.5h1m16 0h1m3 0h1M455 420.5h1m3 0h1m1 0h2m5 0h1m6 0h1m2 0h1m2 0h1M451 421.5h1m3 0h1m2 0h6m4 0h3m1 0h1m1 0h1m3 0h2m2 0h1m2 0h2M453 422.5h1m1 0h1m1 0h1m2 0h2m9 0h2m1 0h1m2 0h1m1 0h4m1 0h3m3 0h1M438 423.5h1m8 0h1m1 0h3m2 0h3m1 0h2m5 0h2m3 0h1m6 0h1m1 0h1m5 0h3M441 424.5h1m8 0h2m1 0h2m24 0h2m4 0h1m1 0h1m1 0h1m3 0h1m1 0h2M438 425.5h1m6 0h1m2 0h1m4 0h3m3 0h1m3 0h1m5 0h1m1 0h1m1 0h1m4 0h3m2 0h2m3 0h2m1 0h1m3 0h2M441 426.5h1m3 0h1m1 0h2m5 0h1m14 0h1m2 0h1m4 0h1m5 0h1m2 0h3m3 0h1m3 0h1M435 427.5h1m5 0h1m3 0h3m6 0h1m1 0h2m1 0h1m8 0h1m14 0h1m2 0h1m2 0h2m1 0h1m1 0h1M446 428.5h2m3 0h1m1 0h1m2 0h1m4 0h1m2 0h1m2 0h1m5 0h1m3 0h2m3 0h2m1 0h2m3 0h1M435 429.5h1m5 0h2m3 0h4m6 0h1m5 0h1m1 0h1m5 0h1m3 0h1m5 0h1m2 0h1m1 0h4m3 0h2m1 0h1M439 430.5h1m3 0h1m2 0h1m7 0h2m5 0h1m2 0h1m1 0h1m2 0h1m8 0h1m3 0h3m2 0h2M444 431.5h1m10 0h1m3 0h1m1 0h1m8 0h2m3 0h3m1 0h2m2 0h1m2 0h2M452 432.5h1m3 0h1m2 0h1m3 0h4m4 0h1m3 0h4m2 0h1m6 0h1M461 433.5h2m15 0h3m2 0h1m7 0h2M455 434.5h1m8 0h1m10 0h2m3 0h1m3 0h1M470 436.5h1M478 452.5h1m9 0h1M480 453.5h1m20 0h1M472 454.5h1m3 0h2m3 0h1m3 0h1m10 0h1m2 0h2M467 455.5h1m3 0h2m2 0h1m2 0h1m2 0h1m1 0h1m1 0h1m2 0h1m3 0h1m1 0h2m2 0h1m4 0h1M454 456.5h1m4 0h1m5 0h2m3 0h1m1 0h1m4 0h1m4 0h1m4 0h1m1 0h2m1 0h5m1 0h1m5 0h1M437 457.5h1m18 0h1m4 0h1m6 0h1m5 0h3m5 0h1m3 0h5m2 0h1m1 0h1m4 0h1M420 458.5h1m3 0h1m10 0h1m4 0h1m4 0h1m5 0h1m2 0h1m2 0h1m3 0h1m1 0h4m5 0h2m2 0h1m7 0h3m2 0h1m4 0h3m1 0h2M421 459.5h1m5 0h1m1 0h1m1 0h1m4 0h1m1 0h1m1 0h1m6 0h1m2 0h5m2 0h1m3 0h2m3 0h1m3 0h1m3 0h1m5 0h2m1 0h1m1 0h3m1 0h1m2 0h1m2 0h1m1 0h1M418 460.5h1m6 0h3m1 0h1m4 0h1m1 0h1m4 0h2m1 0h2m1 0h1m3 0h2m2 0h1m3 0h1m2 0h2m2 0h2m1 0h1m7 0h1m2 0h1m1 0h2m2 0h1m5 0h1m4 0h1m1 0h1m3 0h1M417 461.5h1m1 0h1m3 0h1m1 0h2m1 0h4m1 0h1m1 0h1m3 0h1m1 0h1m5 0h2m4 0h6m1 0h4m4 0h1m1 0h3m9 0h1m15 0h1m2 0h1M404 462.5h1m2 0h1m3 0h1m1 0h3m1 0h3m2 0h2m1 0h1m1 0h1m4 0h3m1 0h1m1 0h2m1 0h5m1 0h1m4 0h3m1 0h2m5 0h1m3 0h1m4 0h1m1 0h1m6 0h1m4 0h1m2 0h1m3 0h1m5 0h2m7 0h1M407 463.5h3m3 0h1m3 0h3m3 0h1m2 0h3m1 0h2m3 0h1m4 0h3m6 0h1m1 0h1m1 0h1m1 0h1m11 0h1m3 0h1m9 0h1m2 0h2m8 0h1m1 0h2m3 0h1m1 0h1M400 464.5h1m5 0h1m2 0h1m1 0h1m4 0h1m1 0h3m2 0h1m2 0h1m1 0h1m1 0h1m6 0h1m2 0h2m2 0h1m1 0h1m3 0h1m1 0h1m3 0h2m4 0h1m3 0h1m6 0h1m10 0h1m2 0h1m4 0h1m1 0h2m1 0h1m3 0h1m1 0h2M404 465.5h1m13 0h1m1 0h1m4 0h1m1 0h1m8 0h1m1 0h2m1 0h1m2 0h1m1 0h1m1 0h1m2 0h2m2 0h1m2 0h3m4 0h1m3 0h1m4 0h1m5 0h1m13 0h1m4 0h1m1 0h1m2 0h1M408 466.5h1m5 0h2m4 0h1m17 0h1m3 0h2m3 0h1m1 0h1m2 0h2m4 0h1m1 0h2m3 0h2m2 0h1m7 0h1m3 0h1m1 0h1m2 0h1m5 0h1m1 0h3m2 0h3M404 467.5h1m2 0h1m1 0h1m1 0h1m2 0h1m2 0h1m3 0h2m3 0h2m4 0h1m3 0h1m1 0h1m2 0h1m1 0h3m1 0h1m1 0h1m8 0h1m9 0h2m4 0h1m5 0h2m3 0h1m2 0h1m2 0h3m2 0h1m8 0h1m3 0h1M407 468.5h1m3 0h1m8 0h1m1 0h1m8 0h1m6 0h1m4 0h1m1 0h2m4 0h2m1 0h2m2 0h1m1 0h2m2 0h3m1 0h1m15 0h1m5 0h1m5 0h1m3 0h1m1 0h1M399 469.5h1m1 0h3m6 0h1m1 0h1m12 0h1m3 0h1m7 0h3m4 0h1m2 0h1m1 0h1m3 0h1m1 0h1m4 0h1m4 0h3m3 0h1m2 0h1m2 0h2m7 0h1m3 0h1m3 0h2m1 0h3M402 470.5h1m4 0h1m2 0h1m5 0h1m1 0h1m13 0h1m1 0h1m3 0h1m4 0h2m1 0h1m2 0h1m4 0h1m4 0h1m11 0h2m2 0h1m2 0h1m6 0h2m2 0h1m7 0h1m2 0h4M400 471.5h1m2 0h2m1 0h1m1 0h1m2 0h1m1 0h1m4 0h1m12 0h2m8 0h1m3 0h6m1 0h1m6 0h1m1 0h1m13 0h1m5 0h1m3 0h1m3 0h5m1 0h2m1 0h2m4 0h1M406 472.5h1m1 0h1m3 0h1m4 0h1m2 0h2m10 0h1m2 0h2m2 0h1m3 0h1m2 0h1m2 0h1m1 0h2m3 0h2m1 0h2m5 0h2m4 0h2m2 0h2m4 0h1m4 0h2m1 0h1m1 0h1m2 0h1m4 0h1m3 0h1M402 473.5h1m1 0h1m6 0h1m3 0h1m4 0h1m14 0h1m7 0h1m2 0h7m5 0h4m4 0h1m7 0h1m2 0h1m1 0h1m2 0h1m7 0h1m2 0h2m1 0h2m1 0h1M401 474.5h3m2 0h1m4 0h2m1 0h4m6 0h1m1 0h1m1 0h1m9 0h1m4 0h1m1 0h2m5 0h1m4 0h1m5 0h2m1 0h1m1 0h1m1 0h2m3 0h2m1 0h2m1 0h2m2 0h1m3 0h1m11 0h1m1 0h1M402 475.5h3m4 0h2m5 0h1m1 0h3m4 0h1m4 0h1m4 0h2m3 0h5m2 0h1m2 0h1m2 0h1m1 0h1m2 0h1m2 0h1m1 0h1m7 0h2m2 0h2m1 0h1m7 0h1m4 0h1m4 0h1M404 476.5h2m2 0h2m1 0h1m12 0h1m3 0h1m1 0h1m5 0h1m3 0h1m3 0h1m1 0h2m1 0h1m1 0h2m2 0h1m2 0h1m1 0h3m4 0h1m10 0h3m13 0h3M400 477.5h1m3 0h1m2 0h1m3 0h1m2 0h1m2 0h1m2 0h1m13 0h1m1 0h1m1 0h3m2 0h1m2 0h4m3 0h1m1 0h1m2 0h1m2 0h1m2 0h1m1 0h2m1 0h2m2 0h1m2 0h2m2 0h1m2 0h3m7 0h1m1 0h1m6 0h1M399 478.5h1m3 0h1m1 0h2m1 0h2m4 0h3m1 0h3m1 0h3m3 0h1m1 0h1m1 0h2m5 0h2m7 0h2m1 0h2m2 0h3m12 0h4m1 0h1m1 0h1m1 0h1m4 0h1m2 0h1m7 0h1m1 0h2M406 479.5h1m4 0h4m6 0h2m1 0h1m1 0h1m2 0h1m3 0h1m1 0h3m1 0h4m2 0h1m2 0h3m4 0h1m2 0h2m1 0h2m2 0h1m1 0h2m5 0h2m5 0h1m9 0h1M406 480.5h5m2 0h5m2 0h2m1 0h1m1 0h2m2 0h1m2 0h1m2 0h1m1 0h1m5 0h1m2 0h1m2 0h1m3 0h1m1 0h4m2 0h2m1 0h1m3 0h1m1 0h1m2 0h2m1 0h1m5 0h2M401 481.5h1m7 0h1m4 0h2m5 0h1m5 0h2m4 0h1m5 0h2m3 0h2m1 0h1m1 0h1m3 0h1m1 0h2m2 0h2m18 0h1m2 0h1M400 482.5h1m5 0h1m1 0h1m1 0h1m2 0h2m5 0h3m2 0h1m1 0h2m2 0h3m3 0h2m1 0h2m4 0h1m1 0h1m2 0h2m2 0h1m1 0h1m3 0h3m1 0h2m8 0h2m12 0h1M407 483.5h2m2 0h2m3 0h1m1 0h5m2 0h1m1 0h1m4 0h1m1 0h1m1 0h2m9 0h1m1 0h2m3 0h1m1 0h1m1 0h1m4 0h1m3 0h1m13 0h1M407 484.5h1m4 0h2m4 0h1m2 0h2m1 0h1m2 0h1m1 0h1m2 0h1m2 0h1m3 0h1m3 0h1m4 0h1m1 0h1m3 0h1m2 0h1m8 0h2m2 0h1m1 0h2m13 0h1M411 485.5h1m4 0h1m1 0h2m3 0h2m4 0h5m3 0h1m7 0h1m1 0h1m3 0h3m7 0h1m4 0h1m1 0h1M412 486.5h1m4 0h2m3 0h1m1 0h1m1 0h1m7 0h1m1 0h1m1 0h1m6 0h1m6 0h1m1 0h1m1 0h1m20 0h1M411 487.5h1m2 0h1m8 0h1m6 0h2m3 0h1m8 0h1m8 0h1m4 0h1m20 0h1m10 0h1M417 488.5h1m4 0h2m22 0h2m4 0h1M416 489.5h1m9 0h1m4 0h3m29 0h1m10 0h1" stroke="#474747"/>
<path d="M463 420.5h1m6 0h4M456 421.5h1m7 0h1m1 0h1m4 0h1M458 422.5h1m5 0h2m1 0h4m4 0h2m6 0h1M453 423.5h1m3 0h1m2 0h4m3 0h3m1 0h6m1 0h1m1 0h3m1 0h1M455 424.5h3m1 0h20m2 0h4m1 0h1m1 0h1m1 0h1m3 0h1M451 425.5h1m5 0h2m2 0h2m1 0h5m1 0h1m1 0h1m1 0h4m3 0h2m2 0h1m1 0h1m2 0h1M444 426.5h1m4 0h2m2 0h1m1 0h14m1 0h2m1 0h4m1 0h5m1 0h2m3 0h1M453 427.5h1m1 0h1m2 0h1m1 0h8m1 0h14m1 0h2m1 0h1M449 428.5h2m1 0h1m1 0h2m1 0h4m1 0h2m1 0h2m1 0h5m1 0h3m2 0h2m3 0h1m2 0h3M452 429.5h4m1 0h5m1 0h1m2 0h4m1 0h3m1 0h2m1 0h2m1 0h2m1 0h1m5 0h1M456 430.5h3m1 0h1m1 0h2m1 0h1m1 0h2m1 0h5m1 0h2m1 0h3m3 0h1m7 0h1M458 431.5h1m3 0h2m1 0h3m1 0h1m2 0h3m3 0h1m2 0h2m5 0h1M453 432.5h1m3 0h1m4 0h1m4 0h4m1 0h2M467 433.5h1M482 453.5h1M490 454.5h1M462 455.5h1m7 0h1m9 0h1m1 0h1m1 0h1M464 456.5h1m6 0h1m3 0h1m2 0h1m1 0h2m3 0h1M460 457.5h1m1 0h1m1 0h1m2 0h1m2 0h1m6 0h5m1 0h3m15 0h1M467 458.5h2m1 0h2m2 0h2m1 0h1m1 0h5m3 0h1m2 0h2m1 0h1m3 0h1M413 459.5h1m14 0h1m5 0h1m8 0h1m4 0h1m7 0h1m6 0h3m1 0h3m1 0h3m1 0h4m3 0h1m5 0h1m1 0h2m1 0h2m4 0h1m1 0h1M419 460.5h1m11 0h1m1 0h1m1 0h1m13 0h2m2 0h2m5 0h2m2 0h2m2 0h1m1 0h4m1 0h2m1 0h2m1 0h1m2 0h2m1 0h1m1 0h3m1 0h2m3 0h1M418 461.5h1m5 0h1m2 0h1m4 0h1m1 0h1m1 0h1m3 0h1m1 0h1m1 0h1m6 0h2m6 0h1m4 0h4m1 0h1m3 0h9m1 0h5m2 0h7m3 0h1M416 462.5h1m3 0h2m2 0h1m1 0h1m1 0h2m1 0h1m5 0h1m2 0h1m5 0h1m1 0h1m2 0h1m6 0h5m1 0h3m1 0h4m1 0h1m1 0h6m2 0h3m1 0h2m1 0h2m2 0h5M416 463.5h1m3 0h3m6 0h1m2 0h2m2 0h2m1 0h1m3 0h2m1 0h2m4 0h1m1 0h1m1 0h8m1 0h2m1 0h3m1 0h9m1 0h2m2 0h8m1 0h1m3 0h1M410 464.5h1m2 0h3m1 0h1m3 0h2m1 0h2m1 0h1m1 0h1m1 0h6m2 0h1m2 0h2m1 0h1m3 0h1m3 0h3m2 0h2m3 0h3m1 0h6m1 0h10m1 0h2m1 0h4m1 0h1m2 0h1m2 0h1M411 465.5h2m1 0h4m1 0h1m1 0h4m1 0h1m1 0h8m1 0h1m5 0h1m1 0h1m1 0h1m1 0h2m2 0h2m2 0h1m4 0h3m1 0h3m1 0h4m1 0h5m1 0h10m1 0h2m1 0h3m2 0h1m2 0h1M403 466.5h1m2 0h1m2 0h3m1 0h1m2 0h4m1 0h11m2 0h4m1 0h3m2 0h3m3 0h2m2 0h4m4 0h3m2 0h2m1 0h7m1 0h3m1 0h1m1 0h2m1 0h1m1 0h3m6 0h1m5 0h1M408 467.5h1m1 0h1m1 0h1m2 0h2m1 0h3m2 0h3m2 0h4m1 0h3m1 0h1m1 0h2m5 0h1m1 0h1m1 0h8m1 0h9m2 0h4m1 0h5m3 0h2m1 0h2m2 0h1m3 0h2m2 0h1M402 468.5h1m3 0h1m1 0h3m1 0h8m1 0h1m1 0h8m1 0h6m1 0h4m1 0h1m2 0h4m2 0h1m2 0h2m1 0h1m2 0h2m3 0h1m1 0h15m1 0h5m1 0h5m2 0h1M406 469.5h1m6 0h12m1 0h3m1 0h6m4 0h4m1 0h1m2 0h1m1 0h1m1 0h1m1 0h1m1 0h4m1 0h4m3 0h3m1 0h2m1 0h2m2 0h6m2 0h3m1 0h3m2 0h1m4 0h1M403 470.5h2m1 0h1m1 0h2m1 0h5m1 0h1m1 0h13m1 0h1m1 0h3m1 0h4m2 0h1m1 0h2m2 0h1m1 0h1m1 0h4m1 0h11m2 0h2m1 0h2m1 0h6m2 0h2m3 0h5M405 471.5h1m1 0h1m1 0h2m1 0h1m1 0h4m1 0h12m2 0h8m2 0h2m6 0h1m2 0h1m1 0h3m3 0h13m1 0h5m1 0h3m1 0h3m8 0h1M405 472.5h1m3 0h3m1 0h4m1 0h2m2 0h10m1 0h2m2 0h2m1 0h2m3 0h1m1 0h2m4 0h1m1 0h1m2 0h1m2 0h3m1 0h1m2 0h4m2 0h2m2 0h4m1 0h1m1 0h2m2 0h1m1 0h1m1 0h2m8 0h1M406 473.5h1m1 0h1m1 0h1m1 0h3m1 0h1m1 0h2m2 0h13m2 0h6m1 0h2m7 0h1m1 0h1m1 0h1m4 0h2m1 0h1m2 0h1m1 0h4m2 0h1m1 0h1m1 0h2m1 0h2m1 0h3m2 0h2m5 0h1M407 474.5h1m1 0h2m2 0h1m4 0h6m1 0h1m1 0h1m1 0h9m1 0h4m1 0h1m4 0h2m2 0h4m1 0h1m1 0h3m4 0h1m1 0h1m2 0h2m3 0h1m2 0h1m2 0h2m1 0h1m1 0h1m2 0h1m2 0h1m3 0h1M405 475.5h1m1 0h2m2 0h5m1 0h1m3 0h4m1 0h4m1 0h4m2 0h3m5 0h1m6 0h1m3 0h2m1 0h2m1 0h1m1 0h2m1 0h3m3 0h2m2 0h1m1 0h4m2 0h1m2 0h2m4 0h1M410 476.5h1m1 0h11m2 0h3m1 0h1m1 0h5m1 0h3m1 0h3m1 0h1m2 0h1m4 0h1m2 0h1m2 0h1m3 0h2m1 0h1m1 0h3m1 0h1m1 0h1m2 0h1m4 0h1m3 0h1m1 0h1m1 0h1M405 477.5h1m3 0h2m1 0h2m1 0h2m1 0h2m1 0h13m1 0h1m1 0h1m3 0h2m1 0h1m6 0h1m5 0h1m1 0h2m1 0h2m1 0h1m5 0h1m3 0h1m2 0h2m1 0h1m7 0h1m4 0h1M407 478.5h1m2 0h1m1 0h2m3 0h1m3 0h1m3 0h3m1 0h1m1 0h1m2 0h5m2 0h1m3 0h1m8 0h1m4 0h1m2 0h3m9 0h1m7 0h1m3 0h1m6 0h1M405 479.5h1m1 0h4m4 0h5m3 0h1m1 0h1m1 0h2m1 0h3m1 0h1m3 0h1m5 0h1m1 0h2m3 0h1m2 0h1m2 0h1m2 0h1m9 0h2m1 0h1m2 0h1m2 0h2m1 0h1M418 480.5h2m2 0h1m1 0h1m2 0h2m1 0h2m2 0h1m1 0h1m5 0h1m1 0h1m2 0h1m3 0h1m19 0h1m3 0h1m8 0h1M410 481.5h1m6 0h1m1 0h2m1 0h2m1 0h2m2 0h3m2 0h2m1 0h1m4 0h1m3 0h1m1 0h1m23 0h2m25 0h1M415 482.5h4m7 0h1m3 0h1m8 0h1m3 0h1m26 0h1m1 0h1m1 0h1m4 0h1M414 483.5h1m2 0h1m6 0h1m1 0h1m1 0h2m3 0h1m7 0h1m3 0h2m5 0h1m17 0h1M409 484.5h1m9 0h2m10 0h1m2 0h1m2 0h2m6 0h3m21 0h1m10 0h1M413 485.5h1m3 0h1m4 0h1m16 0h1M428 486.5h1m10 0h1M419 487.5h1M431 488.5h1M422 489.5h2" stroke="#0a0a0a"/></g>
<rect x="278.6" y="309.2" width="114" height="89" fill="none" stroke="#555" stroke-width="1.15"/>
<rect x="327.4" y="313.5" width="60.4" height="39.4" fill="none" stroke="#585858" stroke-width="1"/>
<text x="280" y="329.3" font-size="10" font-weight="bold" text-anchor="start" fill="#0a0a0a" stroke="#0a0a0a" stroke-width="0.3">medium</text>
<text x="282" y="361.4" font-size="10" text-anchor="start" fill="#0a0a0a" stroke="#0a0a0a" stroke-width="0.3">3.3 +/- 0.1%</text>
<rect x="396.6" y="309.2" width="114" height="88.8" fill="none" stroke="#555" stroke-width="1.15"/>
<rect x="445.2" y="313.5" width="60.4" height="38.9" fill="none" stroke="#585858" stroke-width="1"/>
<text x="399.3" y="329.3" font-size="10" font-weight="bold" text-anchor="start" fill="#0a0a0a" stroke="#0a0a0a" stroke-width="0.3">I:C</text>
<text x="397.4" y="361.4" font-size="10" text-anchor="start" fill="#0a0a0a" stroke="#0a0a0a" stroke-width="0.3">6.0 +/-1.2%</text>
<rect x="278.8" y="401.4" width="114.5" height="89.2" fill="none" stroke="#a8a8a8" stroke-width="1"/>
<rect x="328.1" y="406" width="60.6" height="38.6" fill="none" stroke="#585858" stroke-width="1"/>
<text x="280.4" y="414.9" font-size="10" font-weight="bold" text-anchor="start" fill="#0a0a0a" stroke="#0a0a0a" stroke-width="0.3">R-848</text>
<text x="282.4" y="454.8" font-size="10" text-anchor="start" fill="#0a0a0a" stroke="#0a0a0a" stroke-width="0.3">4.4 +/-0.9%</text>
<rect x="396.5" y="401.4" width="114.5" height="89.4" fill="none" stroke="#a8a8a8" stroke-width="1"/>
<rect x="446" y="406" width="60" height="38.6" fill="none" stroke="#585858" stroke-width="1"/>
<text x="399.9" y="414.9" font-size="10" font-weight="bold" text-anchor="start" fill="#0a0a0a" stroke="#0a0a0a" stroke-width="0.3">I:C+R-848</text>
<text x="398.4" y="454.8" font-size="10" text-anchor="start" fill="#0a0a0a" stroke="#0a0a0a" stroke-width="0.3">13.0 +/-0.7%</text>
<line x1="274" y1="312" x2="274" y2="496" stroke="#7a7a7a" stroke-width="1"/>
<line x1="273.5" y1="496" x2="501" y2="496" stroke="#7a7a7a" stroke-width="1"/>
<path d="M274 309.4L275.7 315.2L274 314L272.3 315.2Z" fill="#555"/>
<path d="M504.6 496L498.8 497.8L500 496L498.8 494.2Z" fill="#555"/>
<text x="267.5" y="409" font-size="12" font-weight="bold" text-anchor="middle" fill="#0a0a0a" stroke="#0a0a0a" stroke-width="0.35" transform="rotate(-90 267.5 409)">CD45.1</text>
<text x="405" y="510.8" font-size="12" font-weight="bold" text-anchor="middle" fill="#0a0a0a" stroke="#0a0a0a" stroke-width="0.35">CD44</text>
</svg></body></html>
